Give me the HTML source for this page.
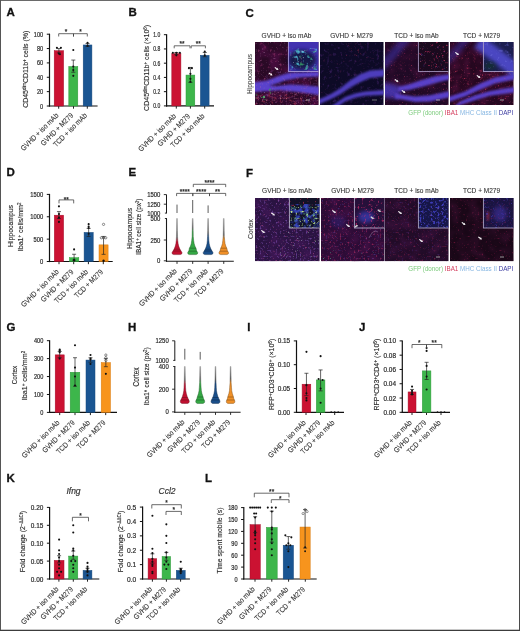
<!DOCTYPE html>
<html><head><meta charset="utf-8"><style>
html,body{margin:0;padding:0;background:#fff;overflow:hidden;}
svg{display:block;font-family:"Liberation Sans",sans-serif;will-change:transform;}
</style></head><body>
<svg width="520" height="631" viewBox="0 0 520 631">
<rect x="0.00" y="0.00" width="520.00" height="631.00" fill="#fff" />
<text x="6.50" y="16.00" font-size="11.5" text-anchor="start" fill="#111" textLength="8.31" lengthAdjust="spacingAndGlyphs" stroke="#111" stroke-width="0.3" font-weight="bold">A</text>
<line x1="49.50" y1="33.70" x2="49.50" y2="106.60" stroke="#111" stroke-width="1.2"/>
<line x1="48.90" y1="106.00" x2="97.60" y2="106.00" stroke="#111" stroke-width="1.2"/>
<line x1="46.80" y1="106.00" x2="49.50" y2="106.00" stroke="#111" stroke-width="1.0"/>
<text x="43.20" y="108.52" font-size="7" text-anchor="end" fill="#2e2e2e" textLength="3.11" lengthAdjust="spacingAndGlyphs" stroke="#2e2e2e" stroke-width="0.22">0</text>
<line x1="46.80" y1="91.64" x2="49.50" y2="91.64" stroke="#111" stroke-width="1.0"/>
<text x="43.20" y="94.16" font-size="7" text-anchor="end" fill="#2e2e2e" textLength="6.23" lengthAdjust="spacingAndGlyphs" stroke="#2e2e2e" stroke-width="0.22">20</text>
<line x1="46.80" y1="77.28" x2="49.50" y2="77.28" stroke="#111" stroke-width="1.0"/>
<text x="43.20" y="79.80" font-size="7" text-anchor="end" fill="#2e2e2e" textLength="6.23" lengthAdjust="spacingAndGlyphs" stroke="#2e2e2e" stroke-width="0.22">40</text>
<line x1="46.80" y1="62.92" x2="49.50" y2="62.92" stroke="#111" stroke-width="1.0"/>
<text x="43.20" y="65.44" font-size="7" text-anchor="end" fill="#2e2e2e" textLength="6.23" lengthAdjust="spacingAndGlyphs" stroke="#2e2e2e" stroke-width="0.22">60</text>
<line x1="46.80" y1="48.56" x2="49.50" y2="48.56" stroke="#111" stroke-width="1.0"/>
<text x="43.20" y="51.08" font-size="7" text-anchor="end" fill="#2e2e2e" textLength="6.23" lengthAdjust="spacingAndGlyphs" stroke="#2e2e2e" stroke-width="0.22">80</text>
<line x1="46.80" y1="34.20" x2="49.50" y2="34.20" stroke="#111" stroke-width="1.0"/>
<text x="43.20" y="36.72" font-size="7" text-anchor="end" fill="#2e2e2e" textLength="9.34" lengthAdjust="spacingAndGlyphs" stroke="#2e2e2e" stroke-width="0.22">100</text>
<line x1="58.70" y1="106.00" x2="58.70" y2="108.70" stroke="#222" stroke-width="1.0"/>
<line x1="73.50" y1="106.00" x2="73.50" y2="108.70" stroke="#222" stroke-width="1.0"/>
<line x1="87.30" y1="106.00" x2="87.30" y2="108.70" stroke="#222" stroke-width="1.0"/>
<rect x="54.20" y="50.71" width="9.40" height="55.29" fill="#cb1232" stroke="#a50f2a" stroke-width="0.5"/>
<line x1="58.90" y1="48.56" x2="58.90" y2="52.87" stroke="#222" stroke-width="0.7"/>
<line x1="56.90" y1="48.56" x2="60.90" y2="48.56" stroke="#222" stroke-width="0.7"/>
<line x1="56.90" y1="52.87" x2="60.90" y2="52.87" stroke="#222" stroke-width="0.7"/>
<circle cx="56.90" cy="47.84" r="1.05" fill="#111"/>
<circle cx="60.90" cy="47.84" r="1.05" fill="#111"/>
<circle cx="58.90" cy="53.59" r="1.05" fill="#111"/>
<circle cx="59.90" cy="54.30" r="1.05" fill="#111"/>
<rect x="68.80" y="66.51" width="9.00" height="39.49" fill="#3db64b" stroke="#2e9a3b" stroke-width="0.5"/>
<line x1="73.30" y1="60.05" x2="73.30" y2="72.25" stroke="#222" stroke-width="0.7"/>
<line x1="71.30" y1="60.05" x2="75.30" y2="60.05" stroke="#222" stroke-width="0.7"/>
<line x1="71.30" y1="72.25" x2="75.30" y2="72.25" stroke="#222" stroke-width="0.7"/>
<circle cx="73.30" cy="50.00" r="1.05" fill="#111"/>
<circle cx="73.30" cy="66.51" r="1.05" fill="#111"/>
<circle cx="73.30" cy="70.10" r="1.05" fill="#111"/>
<circle cx="73.30" cy="75.84" r="1.05" fill="#111"/>
<rect x="83.20" y="44.97" width="8.70" height="61.03" fill="#1a5592" stroke="#16487c" stroke-width="0.5"/>
<line x1="87.55" y1="43.53" x2="87.55" y2="46.41" stroke="#222" stroke-width="0.7"/>
<line x1="85.55" y1="43.53" x2="89.55" y2="43.53" stroke="#222" stroke-width="0.7"/>
<line x1="85.55" y1="46.41" x2="89.55" y2="46.41" stroke="#222" stroke-width="0.7"/>
<circle cx="87.55" cy="42.82" r="1.05" fill="#111"/>
<circle cx="87.55" cy="45.69" r="1.05" fill="#111"/>
<path d="M58.70 36.50V33.70H73.50V36.50" fill="none" stroke="#3a3a3a" stroke-width="0.75"/>
<text x="66.10" y="34.00" font-size="6.5" text-anchor="middle" fill="#2a2a2a" textLength="2.53" lengthAdjust="spacingAndGlyphs" stroke="#2a2a2a" stroke-width="0.25">*</text>
<path d="M73.50 36.50V33.70H87.30V36.50" fill="none" stroke="#3a3a3a" stroke-width="0.75"/>
<text x="80.40" y="34.00" font-size="6.5" text-anchor="middle" fill="#2a2a2a" textLength="2.53" lengthAdjust="spacingAndGlyphs" stroke="#2a2a2a" stroke-width="0.25">*</text>
<text x="59.00" y="116.00" font-size="7.5" text-anchor="end" fill="#333" textLength="49.86" lengthAdjust="spacingAndGlyphs" stroke="#333" stroke-width="0.1" transform="rotate(-45 59.00 116.00)">GVHD + iso mAb</text>
<text x="73.80" y="116.00" font-size="7.5" text-anchor="end" fill="#333" textLength="42.61" lengthAdjust="spacingAndGlyphs" stroke="#333" stroke-width="0.1" transform="rotate(-45 73.80 116.00)">GVHD + M279</text>
<text x="87.60" y="116.00" font-size="7.5" text-anchor="end" fill="#333" textLength="44.42" lengthAdjust="spacingAndGlyphs" stroke="#333" stroke-width="0.1" transform="rotate(-45 87.60 116.00)">TCD + iso mAb</text>
<text x="28.00" y="69.30" font-size="8" text-anchor="middle" fill="#2e2e2e" stroke="#2e2e2e" stroke-width="0.15" transform="rotate(-90 28.00 69.30)" textLength="77.00" lengthAdjust="spacingAndGlyphs">CD45<tspan font-size="5" dy="-2.2">dim</tspan><tspan dy="2.2">CD11b</tspan><tspan font-size="5" dy="-2.2">+</tspan><tspan dy="2.2"> cells (%)</tspan></text>
<text x="128.50" y="16.00" font-size="11.5" text-anchor="start" fill="#111" textLength="8.31" lengthAdjust="spacingAndGlyphs" stroke="#111" stroke-width="0.3" font-weight="bold">B</text>
<line x1="166.60" y1="34.20" x2="166.60" y2="106.50" stroke="#111" stroke-width="1.2"/>
<line x1="166.00" y1="105.90" x2="214.00" y2="105.90" stroke="#111" stroke-width="1.2"/>
<line x1="163.90" y1="105.90" x2="166.60" y2="105.90" stroke="#111" stroke-width="1.0"/>
<text x="160.30" y="108.42" font-size="7" text-anchor="end" fill="#2e2e2e" textLength="7.01" lengthAdjust="spacingAndGlyphs" stroke="#2e2e2e" stroke-width="0.22">0.0</text>
<line x1="163.90" y1="91.66" x2="166.60" y2="91.66" stroke="#111" stroke-width="1.0"/>
<text x="160.30" y="94.18" font-size="7" text-anchor="end" fill="#2e2e2e" textLength="7.01" lengthAdjust="spacingAndGlyphs" stroke="#2e2e2e" stroke-width="0.22">0.2</text>
<line x1="163.90" y1="77.42" x2="166.60" y2="77.42" stroke="#111" stroke-width="1.0"/>
<text x="160.30" y="79.94" font-size="7" text-anchor="end" fill="#2e2e2e" textLength="7.01" lengthAdjust="spacingAndGlyphs" stroke="#2e2e2e" stroke-width="0.22">0.4</text>
<line x1="163.90" y1="63.18" x2="166.60" y2="63.18" stroke="#111" stroke-width="1.0"/>
<text x="160.30" y="65.70" font-size="7" text-anchor="end" fill="#2e2e2e" textLength="7.01" lengthAdjust="spacingAndGlyphs" stroke="#2e2e2e" stroke-width="0.22">0.6</text>
<line x1="163.90" y1="48.94" x2="166.60" y2="48.94" stroke="#111" stroke-width="1.0"/>
<text x="160.30" y="51.46" font-size="7" text-anchor="end" fill="#2e2e2e" textLength="7.01" lengthAdjust="spacingAndGlyphs" stroke="#2e2e2e" stroke-width="0.22">0.8</text>
<line x1="163.90" y1="34.70" x2="166.60" y2="34.70" stroke="#111" stroke-width="1.0"/>
<text x="160.30" y="37.22" font-size="7" text-anchor="end" fill="#2e2e2e" textLength="7.01" lengthAdjust="spacingAndGlyphs" stroke="#2e2e2e" stroke-width="0.22">1.0</text>
<line x1="176.30" y1="105.90" x2="176.30" y2="108.60" stroke="#222" stroke-width="1.0"/>
<line x1="190.40" y1="105.90" x2="190.40" y2="108.60" stroke="#222" stroke-width="1.0"/>
<line x1="204.70" y1="105.90" x2="204.70" y2="108.60" stroke="#222" stroke-width="1.0"/>
<rect x="171.80" y="53.57" width="9.10" height="52.33" fill="#cb1232" stroke="#a50f2a" stroke-width="0.5"/>
<line x1="176.35" y1="52.50" x2="176.35" y2="54.64" stroke="#222" stroke-width="0.7"/>
<line x1="174.35" y1="52.50" x2="178.35" y2="52.50" stroke="#222" stroke-width="0.7"/>
<line x1="174.35" y1="54.64" x2="178.35" y2="54.64" stroke="#222" stroke-width="0.7"/>
<circle cx="172.85" cy="52.86" r="1.05" fill="#111"/>
<circle cx="176.35" cy="52.86" r="1.05" fill="#111"/>
<circle cx="179.85" cy="52.86" r="1.05" fill="#111"/>
<circle cx="176.35" cy="55.35" r="1.05" fill="#111"/>
<rect x="186.00" y="75.07" width="8.80" height="30.83" fill="#3db64b" stroke="#2e9a3b" stroke-width="0.5"/>
<line x1="190.40" y1="67.45" x2="190.40" y2="82.40" stroke="#222" stroke-width="0.7"/>
<line x1="188.40" y1="67.45" x2="192.40" y2="67.45" stroke="#222" stroke-width="0.7"/>
<line x1="188.40" y1="82.40" x2="192.40" y2="82.40" stroke="#222" stroke-width="0.7"/>
<circle cx="188.90" cy="68.16" r="1.05" fill="#111"/>
<circle cx="191.90" cy="68.16" r="1.05" fill="#111"/>
<circle cx="190.40" cy="73.86" r="1.05" fill="#111"/>
<circle cx="190.40" cy="78.84" r="1.05" fill="#111"/>
<circle cx="190.40" cy="81.69" r="1.05" fill="#111"/>
<rect x="200.40" y="55.35" width="8.70" height="50.55" fill="#1a5592" stroke="#16487c" stroke-width="0.5"/>
<line x1="204.75" y1="52.50" x2="204.75" y2="56.77" stroke="#222" stroke-width="0.7"/>
<line x1="202.75" y1="52.50" x2="206.75" y2="52.50" stroke="#222" stroke-width="0.7"/>
<line x1="202.75" y1="56.77" x2="206.75" y2="56.77" stroke="#222" stroke-width="0.7"/>
<circle cx="204.75" cy="51.43" r="1.05" fill="#111"/>
<circle cx="204.75" cy="55.35" r="1.05" fill="#111"/>
<path d="M174.20 48.30V45.80H190.00V48.30" fill="none" stroke="#3a3a3a" stroke-width="0.75"/>
<text x="182.10" y="45.70" font-size="6.5" text-anchor="middle" fill="#2a2a2a" textLength="5.06" lengthAdjust="spacingAndGlyphs" stroke="#2a2a2a" stroke-width="0.25">**</text>
<path d="M191.20 48.30V45.80H205.40V48.30" fill="none" stroke="#3a3a3a" stroke-width="0.75"/>
<text x="198.30" y="45.70" font-size="6.5" text-anchor="middle" fill="#2a2a2a" textLength="5.06" lengthAdjust="spacingAndGlyphs" stroke="#2a2a2a" stroke-width="0.25">**</text>
<text x="176.60" y="116.70" font-size="7.5" text-anchor="end" fill="#333" textLength="49.86" lengthAdjust="spacingAndGlyphs" stroke="#333" stroke-width="0.1" transform="rotate(-45 176.60 116.70)">GVHD + iso mAb</text>
<text x="190.70" y="116.70" font-size="7.5" text-anchor="end" fill="#333" textLength="42.61" lengthAdjust="spacingAndGlyphs" stroke="#333" stroke-width="0.1" transform="rotate(-45 190.70 116.70)">GVHD + M279</text>
<text x="205.00" y="116.70" font-size="7.5" text-anchor="end" fill="#333" textLength="44.42" lengthAdjust="spacingAndGlyphs" stroke="#333" stroke-width="0.1" transform="rotate(-45 205.00 116.70)">TCD + iso mAb</text>
<text x="149.20" y="67.90" font-size="8" text-anchor="middle" fill="#2e2e2e" stroke="#2e2e2e" stroke-width="0.15" transform="rotate(-90 149.20 67.90)" textLength="86.00" lengthAdjust="spacingAndGlyphs">CD45<tspan font-size="5" dy="-2.2">dim</tspan><tspan dy="2.2">CD11b</tspan><tspan font-size="5" dy="-2.2">+</tspan><tspan dy="2.2"> cells (×10</tspan><tspan font-size="5" dy="-2.2">6</tspan><tspan dy="2.2">)</tspan></text>
<text x="6.50" y="175.50" font-size="11.5" text-anchor="start" fill="#111" textLength="8.31" lengthAdjust="spacingAndGlyphs" stroke="#111" stroke-width="0.3" font-weight="bold">D</text>
<line x1="49.50" y1="193.90" x2="49.50" y2="262.10" stroke="#111" stroke-width="1.2"/>
<line x1="48.90" y1="261.50" x2="112.70" y2="261.50" stroke="#111" stroke-width="1.2"/>
<line x1="46.80" y1="261.50" x2="49.50" y2="261.50" stroke="#111" stroke-width="1.0"/>
<text x="43.20" y="264.02" font-size="7" text-anchor="end" fill="#2e2e2e" textLength="3.23" lengthAdjust="spacingAndGlyphs" stroke="#2e2e2e" stroke-width="0.22">0</text>
<line x1="46.80" y1="239.13" x2="49.50" y2="239.13" stroke="#111" stroke-width="1.0"/>
<text x="43.20" y="241.65" font-size="7" text-anchor="end" fill="#2e2e2e" textLength="9.69" lengthAdjust="spacingAndGlyphs" stroke="#2e2e2e" stroke-width="0.22">500</text>
<line x1="46.80" y1="216.77" x2="49.50" y2="216.77" stroke="#111" stroke-width="1.0"/>
<text x="43.20" y="219.29" font-size="7" text-anchor="end" fill="#2e2e2e" textLength="12.92" lengthAdjust="spacingAndGlyphs" stroke="#2e2e2e" stroke-width="0.22">1000</text>
<line x1="46.80" y1="194.40" x2="49.50" y2="194.40" stroke="#111" stroke-width="1.0"/>
<text x="43.20" y="196.92" font-size="7" text-anchor="end" fill="#2e2e2e" textLength="12.92" lengthAdjust="spacingAndGlyphs" stroke="#2e2e2e" stroke-width="0.22">1500</text>
<line x1="59.00" y1="261.50" x2="59.00" y2="264.20" stroke="#222" stroke-width="1.0"/>
<line x1="73.70" y1="261.50" x2="73.70" y2="264.20" stroke="#222" stroke-width="1.0"/>
<line x1="88.40" y1="261.50" x2="88.40" y2="264.20" stroke="#222" stroke-width="1.0"/>
<line x1="103.30" y1="261.50" x2="103.30" y2="264.20" stroke="#222" stroke-width="1.0"/>
<rect x="54.30" y="215.20" width="9.30" height="46.30" fill="#cb1232" stroke="#a50f2a" stroke-width="0.5"/>
<line x1="58.95" y1="211.62" x2="58.95" y2="218.56" stroke="#222" stroke-width="0.7"/>
<line x1="56.95" y1="211.62" x2="60.95" y2="211.62" stroke="#222" stroke-width="0.7"/>
<line x1="56.95" y1="218.56" x2="60.95" y2="218.56" stroke="#222" stroke-width="0.7"/>
<circle cx="58.95" cy="206.34" r="1.05" fill="#111"/>
<circle cx="58.95" cy="214.08" r="1.05" fill="#111"/>
<circle cx="58.95" cy="217.66" r="1.05" fill="#111"/>
<circle cx="58.95" cy="221.91" r="1.05" fill="#111"/>
<rect x="69.40" y="257.70" width="9.40" height="3.80" fill="#3db64b" stroke="#2e9a3b" stroke-width="0.5"/>
<line x1="74.10" y1="254.25" x2="74.10" y2="260.16" stroke="#222" stroke-width="0.7"/>
<line x1="72.10" y1="254.25" x2="76.10" y2="254.25" stroke="#222" stroke-width="0.7"/>
<line x1="72.10" y1="260.16" x2="76.10" y2="260.16" stroke="#222" stroke-width="0.7"/>
<circle cx="74.10" cy="249.42" r="1.05" fill="#111"/>
<circle cx="74.10" cy="259.71" r="1.05" fill="#111"/>
<circle cx="74.10" cy="260.61" r="1.05" fill="#111"/>
<rect x="84.10" y="232.42" width="9.10" height="29.08" fill="#1a5592" stroke="#16487c" stroke-width="0.5"/>
<line x1="88.65" y1="228.40" x2="88.65" y2="236.45" stroke="#222" stroke-width="0.7"/>
<line x1="86.65" y1="228.40" x2="90.65" y2="228.40" stroke="#222" stroke-width="0.7"/>
<line x1="86.65" y1="236.45" x2="90.65" y2="236.45" stroke="#222" stroke-width="0.7"/>
<circle cx="88.65" cy="224.15" r="1.05" fill="#111"/>
<circle cx="88.65" cy="226.61" r="1.05" fill="#111"/>
<circle cx="88.65" cy="227.95" r="1.05" fill="#111"/>
<circle cx="88.65" cy="233.77" r="1.05" fill="#111"/>
<rect x="99.00" y="244.86" width="9.10" height="16.64" fill="#f7941d" stroke="#d97d12" stroke-width="0.5"/>
<line x1="103.55" y1="236.45" x2="103.55" y2="254.34" stroke="#222" stroke-width="0.7"/>
<line x1="101.55" y1="236.45" x2="105.55" y2="236.45" stroke="#222" stroke-width="0.7"/>
<line x1="101.55" y1="254.34" x2="105.55" y2="254.34" stroke="#222" stroke-width="0.7"/>
<circle cx="103.55" cy="260.61" r="1.05" fill="#111"/>
<circle cx="103.55" cy="261.05" r="1.05" fill="#111"/>
<circle cx="103.55" cy="224.37" r="1.15" fill="none" stroke="#333" stroke-width="0.55"/>
<circle cx="101.35" cy="237.79" r="1.15" fill="none" stroke="#333" stroke-width="0.55"/>
<circle cx="103.55" cy="237.79" r="1.15" fill="none" stroke="#333" stroke-width="0.55"/>
<circle cx="105.75" cy="237.79" r="1.15" fill="none" stroke="#333" stroke-width="0.55"/>
<path d="M59.00 203.40V199.90H73.70V203.40" fill="none" stroke="#3a3a3a" stroke-width="0.75"/>
<text x="66.35" y="201.50" font-size="6.5" text-anchor="middle" fill="#2a2a2a" textLength="5.06" lengthAdjust="spacingAndGlyphs" stroke="#2a2a2a" stroke-width="0.25">**</text>
<text x="59.30" y="272.30" font-size="7.5" text-anchor="end" fill="#333" textLength="49.86" lengthAdjust="spacingAndGlyphs" stroke="#333" stroke-width="0.1" transform="rotate(-45 59.30 272.30)">GVHD + iso mAb</text>
<text x="74.00" y="272.30" font-size="7.5" text-anchor="end" fill="#333" textLength="42.61" lengthAdjust="spacingAndGlyphs" stroke="#333" stroke-width="0.1" transform="rotate(-45 74.00 272.30)">GVHD + M279</text>
<text x="88.70" y="272.30" font-size="7.5" text-anchor="end" fill="#333" textLength="44.42" lengthAdjust="spacingAndGlyphs" stroke="#333" stroke-width="0.1" transform="rotate(-45 88.70 272.30)">TCD + iso mAb</text>
<text x="103.60" y="272.30" font-size="7.5" text-anchor="end" fill="#333" textLength="37.17" lengthAdjust="spacingAndGlyphs" stroke="#333" stroke-width="0.1" transform="rotate(-45 103.60 272.30)">TCD + M279</text>
<text x="13.30" y="226.00" font-size="8" text-anchor="middle" fill="#2e2e2e" stroke="#2e2e2e" stroke-width="0.15" transform="rotate(-90 13.30 226.00)" textLength="42.00" lengthAdjust="spacingAndGlyphs">Hippocampus</text>
<text x="23.20" y="226.90" font-size="8" text-anchor="middle" fill="#2e2e2e" stroke="#2e2e2e" stroke-width="0.15" transform="rotate(-90 23.20 226.90)" textLength="48.60" lengthAdjust="spacingAndGlyphs">Iba1<tspan font-size="5" dy="-2.2">+</tspan><tspan dy="2.2"> cells/mm</tspan><tspan font-size="5" dy="-2.2">2</tspan></text>
<text x="6.50" y="331.00" font-size="11.5" text-anchor="start" fill="#111" textLength="8.94" lengthAdjust="spacingAndGlyphs" stroke="#111" stroke-width="0.3" font-weight="bold">G</text>
<line x1="49.60" y1="340.20" x2="49.60" y2="413.00" stroke="#111" stroke-width="1.2"/>
<line x1="49.00" y1="412.40" x2="117.00" y2="412.40" stroke="#111" stroke-width="1.2"/>
<line x1="46.90" y1="412.40" x2="49.60" y2="412.40" stroke="#111" stroke-width="1.0"/>
<text x="43.30" y="414.92" font-size="7" text-anchor="end" fill="#2e2e2e" textLength="3.11" lengthAdjust="spacingAndGlyphs" stroke="#2e2e2e" stroke-width="0.22">0</text>
<line x1="46.90" y1="394.47" x2="49.60" y2="394.47" stroke="#111" stroke-width="1.0"/>
<text x="43.30" y="396.99" font-size="7" text-anchor="end" fill="#2e2e2e" textLength="9.34" lengthAdjust="spacingAndGlyphs" stroke="#2e2e2e" stroke-width="0.22">100</text>
<line x1="46.90" y1="376.55" x2="49.60" y2="376.55" stroke="#111" stroke-width="1.0"/>
<text x="43.30" y="379.07" font-size="7" text-anchor="end" fill="#2e2e2e" textLength="9.34" lengthAdjust="spacingAndGlyphs" stroke="#2e2e2e" stroke-width="0.22">200</text>
<line x1="46.90" y1="358.62" x2="49.60" y2="358.62" stroke="#111" stroke-width="1.0"/>
<text x="43.30" y="361.14" font-size="7" text-anchor="end" fill="#2e2e2e" textLength="9.34" lengthAdjust="spacingAndGlyphs" stroke="#2e2e2e" stroke-width="0.22">300</text>
<line x1="46.90" y1="340.70" x2="49.60" y2="340.70" stroke="#111" stroke-width="1.0"/>
<text x="43.30" y="343.22" font-size="7" text-anchor="end" fill="#2e2e2e" textLength="9.34" lengthAdjust="spacingAndGlyphs" stroke="#2e2e2e" stroke-width="0.22">400</text>
<line x1="59.70" y1="412.40" x2="59.70" y2="415.10" stroke="#222" stroke-width="1.0"/>
<line x1="75.00" y1="412.40" x2="75.00" y2="415.10" stroke="#222" stroke-width="1.0"/>
<line x1="90.40" y1="412.40" x2="90.40" y2="415.10" stroke="#222" stroke-width="1.0"/>
<line x1="105.70" y1="412.40" x2="105.70" y2="415.10" stroke="#222" stroke-width="1.0"/>
<rect x="55.20" y="354.86" width="9.00" height="57.54" fill="#cb1232" stroke="#a50f2a" stroke-width="0.5"/>
<line x1="59.70" y1="351.45" x2="59.70" y2="357.73" stroke="#222" stroke-width="0.7"/>
<line x1="57.70" y1="351.45" x2="61.70" y2="351.45" stroke="#222" stroke-width="0.7"/>
<line x1="57.70" y1="357.73" x2="61.70" y2="357.73" stroke="#222" stroke-width="0.7"/>
<circle cx="59.70" cy="349.66" r="1.05" fill="#111"/>
<circle cx="59.70" cy="350.56" r="1.05" fill="#111"/>
<circle cx="59.70" cy="352.35" r="1.05" fill="#111"/>
<circle cx="59.70" cy="358.62" r="1.05" fill="#111"/>
<rect x="70.20" y="372.25" width="9.60" height="40.15" fill="#3db64b" stroke="#2e9a3b" stroke-width="0.5"/>
<line x1="75.00" y1="357.73" x2="75.00" y2="386.23" stroke="#222" stroke-width="0.7"/>
<line x1="73.00" y1="357.73" x2="77.00" y2="357.73" stroke="#222" stroke-width="0.7"/>
<line x1="73.00" y1="386.23" x2="77.00" y2="386.23" stroke="#222" stroke-width="0.7"/>
<circle cx="75.00" cy="345.18" r="1.05" fill="#111"/>
<circle cx="75.00" cy="367.59" r="1.05" fill="#111"/>
<circle cx="75.00" cy="376.55" r="1.05" fill="#111"/>
<circle cx="75.00" cy="385.51" r="1.05" fill="#111"/>
<rect x="86.00" y="360.06" width="9.00" height="52.34" fill="#1a5592" stroke="#16487c" stroke-width="0.5"/>
<line x1="90.50" y1="357.73" x2="90.50" y2="362.21" stroke="#222" stroke-width="0.7"/>
<line x1="88.50" y1="357.73" x2="92.50" y2="357.73" stroke="#222" stroke-width="0.7"/>
<line x1="88.50" y1="362.21" x2="92.50" y2="362.21" stroke="#222" stroke-width="0.7"/>
<circle cx="90.50" cy="355.04" r="1.05" fill="#111"/>
<circle cx="90.50" cy="358.62" r="1.05" fill="#111"/>
<circle cx="90.50" cy="359.52" r="1.05" fill="#111"/>
<circle cx="90.50" cy="364.00" r="1.05" fill="#111"/>
<rect x="101.20" y="362.57" width="9.30" height="49.83" fill="#f7941d" stroke="#d97d12" stroke-width="0.5"/>
<line x1="105.85" y1="358.62" x2="105.85" y2="366.69" stroke="#222" stroke-width="0.7"/>
<line x1="103.85" y1="358.62" x2="107.85" y2="358.62" stroke="#222" stroke-width="0.7"/>
<line x1="103.85" y1="366.69" x2="107.85" y2="366.69" stroke="#222" stroke-width="0.7"/>
<circle cx="105.85" cy="373.86" r="1.05" fill="#111"/>
<circle cx="105.85" cy="355.04" r="1.15" fill="none" stroke="#333" stroke-width="0.55"/>
<circle cx="105.85" cy="357.73" r="1.15" fill="none" stroke="#333" stroke-width="0.55"/>
<circle cx="105.85" cy="360.42" r="1.15" fill="none" stroke="#333" stroke-width="0.55"/>
<text x="60.00" y="423.20" font-size="7.5" text-anchor="end" fill="#333" textLength="49.86" lengthAdjust="spacingAndGlyphs" stroke="#333" stroke-width="0.1" transform="rotate(-45 60.00 423.20)">GVHD + iso mAb</text>
<text x="75.30" y="423.20" font-size="7.5" text-anchor="end" fill="#333" textLength="42.61" lengthAdjust="spacingAndGlyphs" stroke="#333" stroke-width="0.1" transform="rotate(-45 75.30 423.20)">GVHD + M279</text>
<text x="90.70" y="423.20" font-size="7.5" text-anchor="end" fill="#333" textLength="44.42" lengthAdjust="spacingAndGlyphs" stroke="#333" stroke-width="0.1" transform="rotate(-45 90.70 423.20)">TCD + iso mAb</text>
<text x="106.00" y="423.20" font-size="7.5" text-anchor="end" fill="#333" textLength="37.17" lengthAdjust="spacingAndGlyphs" stroke="#333" stroke-width="0.1" transform="rotate(-45 106.00 423.20)">TCD + M279</text>
<text x="17.30" y="375.00" font-size="8" text-anchor="middle" fill="#2e2e2e" stroke="#2e2e2e" stroke-width="0.15" transform="rotate(-90 17.30 375.00)" textLength="18.50" lengthAdjust="spacingAndGlyphs">Cortex</text>
<text x="27.40" y="375.50" font-size="8" text-anchor="middle" fill="#2e2e2e" stroke="#2e2e2e" stroke-width="0.15" transform="rotate(-90 27.40 375.50)" textLength="49.50" lengthAdjust="spacingAndGlyphs">Iba1<tspan font-size="5" dy="-2.2">+</tspan><tspan dy="2.2"> cells/mm</tspan><tspan font-size="5" dy="-2.2">2</tspan></text>
<text x="247.30" y="331.00" font-size="11.5" text-anchor="start" fill="#111" textLength="3.19" lengthAdjust="spacingAndGlyphs" stroke="#111" stroke-width="0.3" font-weight="bold">I</text>
<line x1="296.50" y1="340.40" x2="296.50" y2="412.90" stroke="#111" stroke-width="1.2"/>
<line x1="295.90" y1="412.30" x2="344.00" y2="412.30" stroke="#111" stroke-width="1.2"/>
<line x1="293.80" y1="412.30" x2="296.50" y2="412.30" stroke="#111" stroke-width="1.0"/>
<text x="290.20" y="414.82" font-size="7" text-anchor="end" fill="#2e2e2e" textLength="12.53" lengthAdjust="spacingAndGlyphs" stroke="#2e2e2e" stroke-width="0.22">0.00</text>
<line x1="293.80" y1="388.50" x2="296.50" y2="388.50" stroke="#111" stroke-width="1.0"/>
<text x="290.20" y="391.02" font-size="7" text-anchor="end" fill="#2e2e2e" textLength="12.53" lengthAdjust="spacingAndGlyphs" stroke="#2e2e2e" stroke-width="0.22">0.05</text>
<line x1="293.80" y1="364.70" x2="296.50" y2="364.70" stroke="#111" stroke-width="1.0"/>
<text x="290.20" y="367.22" font-size="7" text-anchor="end" fill="#2e2e2e" textLength="12.53" lengthAdjust="spacingAndGlyphs" stroke="#2e2e2e" stroke-width="0.22">0.10</text>
<line x1="293.80" y1="340.90" x2="296.50" y2="340.90" stroke="#111" stroke-width="1.0"/>
<text x="290.20" y="343.42" font-size="7" text-anchor="end" fill="#2e2e2e" textLength="12.53" lengthAdjust="spacingAndGlyphs" stroke="#2e2e2e" stroke-width="0.22">0.15</text>
<line x1="306.00" y1="412.30" x2="306.00" y2="415.00" stroke="#222" stroke-width="1.0"/>
<line x1="320.50" y1="412.30" x2="320.50" y2="415.00" stroke="#222" stroke-width="1.0"/>
<line x1="334.70" y1="412.30" x2="334.70" y2="415.00" stroke="#222" stroke-width="1.0"/>
<rect x="302.10" y="384.22" width="8.70" height="28.08" fill="#cb1232" stroke="#a50f2a" stroke-width="0.5"/>
<line x1="306.45" y1="373.27" x2="306.45" y2="395.64" stroke="#222" stroke-width="0.7"/>
<line x1="304.45" y1="373.27" x2="308.45" y2="373.27" stroke="#222" stroke-width="0.7"/>
<line x1="304.45" y1="395.64" x2="308.45" y2="395.64" stroke="#222" stroke-width="0.7"/>
<circle cx="306.45" cy="351.85" r="1.05" fill="#111"/>
<circle cx="306.45" cy="385.17" r="1.05" fill="#111"/>
<circle cx="306.45" cy="393.26" r="1.05" fill="#111"/>
<circle cx="306.45" cy="398.02" r="1.05" fill="#111"/>
<circle cx="306.45" cy="400.40" r="1.05" fill="#111"/>
<rect x="316.30" y="379.93" width="8.60" height="32.37" fill="#3db64b" stroke="#2e9a3b" stroke-width="0.5"/>
<line x1="320.60" y1="369.94" x2="320.60" y2="390.88" stroke="#222" stroke-width="0.7"/>
<line x1="318.60" y1="369.94" x2="322.60" y2="369.94" stroke="#222" stroke-width="0.7"/>
<line x1="318.60" y1="390.88" x2="322.60" y2="390.88" stroke="#222" stroke-width="0.7"/>
<circle cx="320.60" cy="356.13" r="1.05" fill="#111"/>
<circle cx="318.60" cy="378.98" r="1.05" fill="#111"/>
<circle cx="322.60" cy="379.93" r="1.05" fill="#111"/>
<circle cx="320.60" cy="388.50" r="1.05" fill="#111"/>
<circle cx="320.60" cy="402.78" r="1.05" fill="#111"/>
<circle cx="331.20" cy="412.00" r="0.8" fill="#111"/>
<circle cx="334.70" cy="412.00" r="0.8" fill="#111"/>
<circle cx="338.20" cy="412.00" r="0.8" fill="#111"/>
<text x="306.30" y="423.10" font-size="7.5" text-anchor="end" fill="#333" textLength="49.86" lengthAdjust="spacingAndGlyphs" stroke="#333" stroke-width="0.1" transform="rotate(-45 306.30 423.10)">GVHD + iso mAb</text>
<text x="320.80" y="423.10" font-size="7.5" text-anchor="end" fill="#333" textLength="42.61" lengthAdjust="spacingAndGlyphs" stroke="#333" stroke-width="0.1" transform="rotate(-45 320.80 423.10)">GVHD + M279</text>
<text x="335.00" y="423.10" font-size="7.5" text-anchor="end" fill="#333" textLength="44.42" lengthAdjust="spacingAndGlyphs" stroke="#333" stroke-width="0.1" transform="rotate(-45 335.00 423.10)">TCD + iso mAb</text>
<text x="274.20" y="374.30" font-size="7" text-anchor="middle" fill="#2e2e2e" stroke="#2e2e2e" stroke-width="0.15" transform="rotate(-90 274.20 374.30)" textLength="71.40" lengthAdjust="spacingAndGlyphs">RFP<tspan font-size="5" dy="-2.2">+</tspan><tspan dy="2.2">CD3</tspan><tspan font-size="5" dy="-2.2">+</tspan><tspan dy="2.2">CD8</tspan><tspan font-size="5" dy="-2.2">+</tspan><tspan dy="2.2"> (×10</tspan><tspan font-size="5" dy="-2.2">6</tspan><tspan dy="2.2">)</tspan></text>
<text x="359.00" y="331.00" font-size="11.5" text-anchor="start" fill="#111" textLength="6.40" lengthAdjust="spacingAndGlyphs" stroke="#111" stroke-width="0.3" font-weight="bold">J</text>
<line x1="402.30" y1="340.40" x2="402.30" y2="412.90" stroke="#111" stroke-width="1.2"/>
<line x1="401.70" y1="412.30" x2="450.00" y2="412.30" stroke="#111" stroke-width="1.2"/>
<line x1="399.60" y1="412.30" x2="402.30" y2="412.30" stroke="#111" stroke-width="1.0"/>
<text x="396.00" y="414.82" font-size="7" text-anchor="end" fill="#2e2e2e" textLength="12.53" lengthAdjust="spacingAndGlyphs" stroke="#2e2e2e" stroke-width="0.22">0.00</text>
<line x1="399.60" y1="398.02" x2="402.30" y2="398.02" stroke="#111" stroke-width="1.0"/>
<text x="396.00" y="400.54" font-size="7" text-anchor="end" fill="#2e2e2e" textLength="12.53" lengthAdjust="spacingAndGlyphs" stroke="#2e2e2e" stroke-width="0.22">0.02</text>
<line x1="399.60" y1="383.74" x2="402.30" y2="383.74" stroke="#111" stroke-width="1.0"/>
<text x="396.00" y="386.26" font-size="7" text-anchor="end" fill="#2e2e2e" textLength="12.53" lengthAdjust="spacingAndGlyphs" stroke="#2e2e2e" stroke-width="0.22">0.04</text>
<line x1="399.60" y1="369.46" x2="402.30" y2="369.46" stroke="#111" stroke-width="1.0"/>
<text x="396.00" y="371.98" font-size="7" text-anchor="end" fill="#2e2e2e" textLength="12.53" lengthAdjust="spacingAndGlyphs" stroke="#2e2e2e" stroke-width="0.22">0.06</text>
<line x1="399.60" y1="355.18" x2="402.30" y2="355.18" stroke="#111" stroke-width="1.0"/>
<text x="396.00" y="357.70" font-size="7" text-anchor="end" fill="#2e2e2e" textLength="12.53" lengthAdjust="spacingAndGlyphs" stroke="#2e2e2e" stroke-width="0.22">0.08</text>
<line x1="399.60" y1="340.90" x2="402.30" y2="340.90" stroke="#111" stroke-width="1.0"/>
<text x="396.00" y="343.42" font-size="7" text-anchor="end" fill="#2e2e2e" textLength="12.53" lengthAdjust="spacingAndGlyphs" stroke="#2e2e2e" stroke-width="0.22">0.10</text>
<line x1="412.00" y1="412.30" x2="412.00" y2="415.00" stroke="#222" stroke-width="1.0"/>
<line x1="426.50" y1="412.30" x2="426.50" y2="415.00" stroke="#222" stroke-width="1.0"/>
<line x1="441.00" y1="412.30" x2="441.00" y2="415.00" stroke="#222" stroke-width="1.0"/>
<rect x="408.10" y="391.95" width="7.90" height="20.35" fill="#cb1232" stroke="#a50f2a" stroke-width="0.5"/>
<line x1="412.05" y1="389.45" x2="412.05" y2="394.45" stroke="#222" stroke-width="0.7"/>
<line x1="410.05" y1="389.45" x2="414.05" y2="389.45" stroke="#222" stroke-width="0.7"/>
<line x1="410.05" y1="394.45" x2="414.05" y2="394.45" stroke="#222" stroke-width="0.7"/>
<circle cx="412.05" cy="386.60" r="1.05" fill="#111"/>
<circle cx="412.05" cy="390.88" r="1.05" fill="#111"/>
<circle cx="412.05" cy="393.02" r="1.05" fill="#111"/>
<circle cx="412.05" cy="394.45" r="1.05" fill="#111"/>
<rect x="422.30" y="370.89" width="8.60" height="41.41" fill="#3db64b" stroke="#2e9a3b" stroke-width="0.5"/>
<line x1="426.60" y1="362.32" x2="426.60" y2="379.46" stroke="#222" stroke-width="0.7"/>
<line x1="424.60" y1="362.32" x2="428.60" y2="362.32" stroke="#222" stroke-width="0.7"/>
<line x1="424.60" y1="379.46" x2="428.60" y2="379.46" stroke="#222" stroke-width="0.7"/>
<circle cx="426.60" cy="348.04" r="1.05" fill="#111"/>
<circle cx="426.60" cy="350.90" r="1.05" fill="#111"/>
<circle cx="426.60" cy="365.89" r="1.05" fill="#111"/>
<circle cx="426.60" cy="376.60" r="1.05" fill="#111"/>
<circle cx="426.60" cy="389.45" r="1.05" fill="#111"/>
<circle cx="437.50" cy="412.00" r="0.8" fill="#111"/>
<circle cx="441.00" cy="412.00" r="0.8" fill="#111"/>
<circle cx="444.50" cy="412.00" r="0.8" fill="#111"/>
<path d="M412.00 348.20V344.50H426.50V348.20" fill="none" stroke="#3a3a3a" stroke-width="0.75"/>
<text x="419.25" y="345.10" font-size="6.5" text-anchor="middle" fill="#2a2a2a" textLength="2.53" lengthAdjust="spacingAndGlyphs" stroke="#2a2a2a" stroke-width="0.25">*</text>
<path d="M426.50 348.20V344.50H441.80V348.20" fill="none" stroke="#3a3a3a" stroke-width="0.75"/>
<text x="434.15" y="345.10" font-size="6.5" text-anchor="middle" fill="#2a2a2a" textLength="5.06" lengthAdjust="spacingAndGlyphs" stroke="#2a2a2a" stroke-width="0.25">**</text>
<text x="412.30" y="423.10" font-size="7.5" text-anchor="end" fill="#333" textLength="49.86" lengthAdjust="spacingAndGlyphs" stroke="#333" stroke-width="0.1" transform="rotate(-45 412.30 423.10)">GVHD + iso mAb</text>
<text x="426.80" y="423.10" font-size="7.5" text-anchor="end" fill="#333" textLength="42.61" lengthAdjust="spacingAndGlyphs" stroke="#333" stroke-width="0.1" transform="rotate(-45 426.80 423.10)">GVHD + M279</text>
<text x="441.30" y="423.10" font-size="7.5" text-anchor="end" fill="#333" textLength="44.42" lengthAdjust="spacingAndGlyphs" stroke="#333" stroke-width="0.1" transform="rotate(-45 441.30 423.10)">TCD + iso mAb</text>
<text x="379.50" y="374.60" font-size="7" text-anchor="middle" fill="#2e2e2e" stroke="#2e2e2e" stroke-width="0.15" transform="rotate(-90 379.50 374.60)" textLength="72.00" lengthAdjust="spacingAndGlyphs">RFP<tspan font-size="5" dy="-2.2">+</tspan><tspan dy="2.2">CD3</tspan><tspan font-size="5" dy="-2.2">+</tspan><tspan dy="2.2">CD4</tspan><tspan font-size="5" dy="-2.2">+</tspan><tspan dy="2.2"> (×10</tspan><tspan font-size="5" dy="-2.2">6</tspan><tspan dy="2.2">)</tspan></text>
<text x="6.50" y="482.00" font-size="11.5" text-anchor="start" fill="#111" textLength="8.31" lengthAdjust="spacingAndGlyphs" stroke="#111" stroke-width="0.3" font-weight="bold">K</text>
<line x1="49.60" y1="506.90" x2="49.60" y2="579.60" stroke="#111" stroke-width="1.2"/>
<line x1="49.00" y1="579.00" x2="99.30" y2="579.00" stroke="#111" stroke-width="1.2"/>
<line x1="46.90" y1="579.00" x2="49.60" y2="579.00" stroke="#111" stroke-width="1.0"/>
<text x="43.30" y="581.52" font-size="7" text-anchor="end" fill="#2e2e2e" textLength="12.53" lengthAdjust="spacingAndGlyphs" stroke="#2e2e2e" stroke-width="0.22">0.00</text>
<line x1="46.90" y1="561.10" x2="49.60" y2="561.10" stroke="#111" stroke-width="1.0"/>
<text x="43.30" y="563.62" font-size="7" text-anchor="end" fill="#2e2e2e" textLength="12.53" lengthAdjust="spacingAndGlyphs" stroke="#2e2e2e" stroke-width="0.22">0.05</text>
<line x1="46.90" y1="543.20" x2="49.60" y2="543.20" stroke="#111" stroke-width="1.0"/>
<text x="43.30" y="545.72" font-size="7" text-anchor="end" fill="#2e2e2e" textLength="12.53" lengthAdjust="spacingAndGlyphs" stroke="#2e2e2e" stroke-width="0.22">0.10</text>
<line x1="46.90" y1="525.30" x2="49.60" y2="525.30" stroke="#111" stroke-width="1.0"/>
<text x="43.30" y="527.82" font-size="7" text-anchor="end" fill="#2e2e2e" textLength="12.53" lengthAdjust="spacingAndGlyphs" stroke="#2e2e2e" stroke-width="0.22">0.15</text>
<line x1="46.90" y1="507.40" x2="49.60" y2="507.40" stroke="#111" stroke-width="1.0"/>
<text x="43.30" y="509.92" font-size="7" text-anchor="end" fill="#2e2e2e" textLength="12.53" lengthAdjust="spacingAndGlyphs" stroke="#2e2e2e" stroke-width="0.22">0.20</text>
<line x1="58.90" y1="579.00" x2="58.90" y2="581.70" stroke="#222" stroke-width="1.0"/>
<line x1="73.30" y1="579.00" x2="73.30" y2="581.70" stroke="#222" stroke-width="1.0"/>
<line x1="87.50" y1="579.00" x2="87.50" y2="581.70" stroke="#222" stroke-width="1.0"/>
<rect x="54.20" y="560.38" width="9.80" height="18.62" fill="#cb1232" stroke="#a50f2a" stroke-width="0.5"/>
<line x1="59.10" y1="555.73" x2="59.10" y2="562.89" stroke="#222" stroke-width="0.7"/>
<line x1="57.10" y1="555.73" x2="61.10" y2="555.73" stroke="#222" stroke-width="0.7"/>
<line x1="57.10" y1="562.89" x2="61.10" y2="562.89" stroke="#222" stroke-width="0.7"/>
<circle cx="59.10" cy="539.62" r="1.05" fill="#111"/>
<circle cx="59.10" cy="550.36" r="1.05" fill="#111"/>
<circle cx="59.10" cy="553.94" r="1.05" fill="#111"/>
<circle cx="59.10" cy="557.52" r="1.05" fill="#111"/>
<circle cx="59.10" cy="561.10" r="1.05" fill="#111"/>
<circle cx="59.10" cy="564.68" r="1.05" fill="#111"/>
<circle cx="59.10" cy="568.26" r="1.05" fill="#111"/>
<circle cx="57.10" cy="571.84" r="1.05" fill="#111"/>
<circle cx="61.10" cy="571.84" r="1.05" fill="#111"/>
<circle cx="59.10" cy="575.42" r="1.05" fill="#111"/>
<rect x="68.70" y="556.09" width="9.10" height="22.91" fill="#3db64b" stroke="#2e9a3b" stroke-width="0.5"/>
<line x1="73.25" y1="551.08" x2="73.25" y2="559.31" stroke="#222" stroke-width="0.7"/>
<line x1="71.25" y1="551.08" x2="75.25" y2="551.08" stroke="#222" stroke-width="0.7"/>
<line x1="71.25" y1="559.31" x2="75.25" y2="559.31" stroke="#222" stroke-width="0.7"/>
<circle cx="73.25" cy="525.30" r="1.05" fill="#111"/>
<circle cx="73.25" cy="532.46" r="1.05" fill="#111"/>
<circle cx="73.25" cy="548.57" r="1.05" fill="#111"/>
<circle cx="73.25" cy="550.36" r="1.05" fill="#111"/>
<circle cx="73.25" cy="555.73" r="1.05" fill="#111"/>
<circle cx="71.25" cy="561.10" r="1.05" fill="#111"/>
<circle cx="75.25" cy="561.10" r="1.05" fill="#111"/>
<circle cx="73.25" cy="564.68" r="1.05" fill="#111"/>
<circle cx="73.25" cy="568.26" r="1.05" fill="#111"/>
<circle cx="73.25" cy="571.84" r="1.05" fill="#111"/>
<rect x="83.10" y="570.41" width="8.80" height="8.59" fill="#1a5592" stroke="#16487c" stroke-width="0.5"/>
<line x1="87.50" y1="568.26" x2="87.50" y2="571.84" stroke="#222" stroke-width="0.7"/>
<line x1="85.50" y1="568.26" x2="89.50" y2="568.26" stroke="#222" stroke-width="0.7"/>
<line x1="85.50" y1="571.84" x2="89.50" y2="571.84" stroke="#222" stroke-width="0.7"/>
<circle cx="87.50" cy="562.89" r="1.05" fill="#111"/>
<circle cx="87.50" cy="566.47" r="1.05" fill="#111"/>
<circle cx="87.50" cy="568.26" r="1.05" fill="#111"/>
<circle cx="87.50" cy="570.05" r="1.05" fill="#111"/>
<circle cx="87.50" cy="571.84" r="1.05" fill="#111"/>
<circle cx="87.50" cy="575.42" r="1.05" fill="#111"/>
<path d="M72.40 521.30V517.30H88.50V521.30" fill="none" stroke="#3a3a3a" stroke-width="0.75"/>
<text x="80.45" y="517.70" font-size="6.5" text-anchor="middle" fill="#2a2a2a" textLength="2.53" lengthAdjust="spacingAndGlyphs" stroke="#2a2a2a" stroke-width="0.25">*</text>
<text x="59.20" y="589.80" font-size="7.5" text-anchor="end" fill="#333" textLength="49.86" lengthAdjust="spacingAndGlyphs" stroke="#333" stroke-width="0.1" transform="rotate(-45 59.20 589.80)">GVHD + iso mAb</text>
<text x="73.60" y="589.80" font-size="7.5" text-anchor="end" fill="#333" textLength="42.61" lengthAdjust="spacingAndGlyphs" stroke="#333" stroke-width="0.1" transform="rotate(-45 73.60 589.80)">GVHD + M279</text>
<text x="87.80" y="589.80" font-size="7.5" text-anchor="end" fill="#333" textLength="44.42" lengthAdjust="spacingAndGlyphs" stroke="#333" stroke-width="0.1" transform="rotate(-45 87.80 589.80)">TCD + iso mAb</text>
<text x="73.50" y="494.20" font-size="8.5" text-anchor="middle" fill="#3a3a3a" textLength="14.18" lengthAdjust="spacingAndGlyphs" stroke="#3a3a3a" stroke-width="0.22" font-style="italic">Ifng</text>
<text x="25.30" y="541.50" font-size="7.8" text-anchor="middle" fill="#2e2e2e" stroke="#2e2e2e" stroke-width="0.15" transform="rotate(-90 25.30 541.50)" textLength="61.40" lengthAdjust="spacingAndGlyphs">Fold change (2<tspan font-size="5" dy="-2.2">−ΔΔCt</tspan><tspan dy="2.2">)</tspan></text>
<line x1="142.60" y1="506.60" x2="142.60" y2="579.60" stroke="#111" stroke-width="1.2"/>
<line x1="142.00" y1="579.00" x2="189.90" y2="579.00" stroke="#111" stroke-width="1.2"/>
<line x1="139.90" y1="579.00" x2="142.60" y2="579.00" stroke="#111" stroke-width="1.0"/>
<text x="136.30" y="581.52" font-size="7" text-anchor="end" fill="#2e2e2e" textLength="9.24" lengthAdjust="spacingAndGlyphs" stroke="#2e2e2e" stroke-width="0.22">0.0</text>
<line x1="139.90" y1="564.62" x2="142.60" y2="564.62" stroke="#111" stroke-width="1.0"/>
<text x="136.30" y="567.14" font-size="7" text-anchor="end" fill="#2e2e2e" textLength="9.24" lengthAdjust="spacingAndGlyphs" stroke="#2e2e2e" stroke-width="0.22">0.1</text>
<line x1="139.90" y1="550.24" x2="142.60" y2="550.24" stroke="#111" stroke-width="1.0"/>
<text x="136.30" y="552.76" font-size="7" text-anchor="end" fill="#2e2e2e" textLength="9.24" lengthAdjust="spacingAndGlyphs" stroke="#2e2e2e" stroke-width="0.22">0.2</text>
<line x1="139.90" y1="535.86" x2="142.60" y2="535.86" stroke="#111" stroke-width="1.0"/>
<text x="136.30" y="538.38" font-size="7" text-anchor="end" fill="#2e2e2e" textLength="9.24" lengthAdjust="spacingAndGlyphs" stroke="#2e2e2e" stroke-width="0.22">0.3</text>
<line x1="139.90" y1="521.48" x2="142.60" y2="521.48" stroke="#111" stroke-width="1.0"/>
<text x="136.30" y="524.00" font-size="7" text-anchor="end" fill="#2e2e2e" textLength="9.24" lengthAdjust="spacingAndGlyphs" stroke="#2e2e2e" stroke-width="0.22">0.4</text>
<line x1="139.90" y1="507.10" x2="142.60" y2="507.10" stroke="#111" stroke-width="1.0"/>
<text x="136.30" y="509.62" font-size="7" text-anchor="end" fill="#2e2e2e" textLength="9.24" lengthAdjust="spacingAndGlyphs" stroke="#2e2e2e" stroke-width="0.22">0.5</text>
<line x1="152.40" y1="579.00" x2="152.40" y2="581.70" stroke="#222" stroke-width="1.0"/>
<line x1="166.40" y1="579.00" x2="166.40" y2="581.70" stroke="#222" stroke-width="1.0"/>
<line x1="180.60" y1="579.00" x2="180.60" y2="581.70" stroke="#222" stroke-width="1.0"/>
<rect x="148.10" y="558.72" width="8.60" height="20.28" fill="#cb1232" stroke="#a50f2a" stroke-width="0.5"/>
<line x1="152.40" y1="553.84" x2="152.40" y2="563.18" stroke="#222" stroke-width="0.7"/>
<line x1="150.40" y1="553.84" x2="154.40" y2="553.84" stroke="#222" stroke-width="0.7"/>
<line x1="150.40" y1="563.18" x2="154.40" y2="563.18" stroke="#222" stroke-width="0.7"/>
<circle cx="152.40" cy="515.73" r="1.05" fill="#111"/>
<circle cx="152.40" cy="548.80" r="1.05" fill="#111"/>
<circle cx="152.40" cy="553.12" r="1.05" fill="#111"/>
<circle cx="152.40" cy="558.87" r="1.05" fill="#111"/>
<circle cx="152.40" cy="561.74" r="1.05" fill="#111"/>
<circle cx="152.40" cy="564.62" r="1.05" fill="#111"/>
<circle cx="152.40" cy="566.06" r="1.05" fill="#111"/>
<circle cx="152.40" cy="571.81" r="1.05" fill="#111"/>
<circle cx="152.40" cy="573.25" r="1.05" fill="#111"/>
<rect x="162.10" y="556.57" width="8.50" height="22.43" fill="#3db64b" stroke="#2e9a3b" stroke-width="0.5"/>
<line x1="166.35" y1="552.40" x2="166.35" y2="560.31" stroke="#222" stroke-width="0.7"/>
<line x1="164.35" y1="552.40" x2="168.35" y2="552.40" stroke="#222" stroke-width="0.7"/>
<line x1="164.35" y1="560.31" x2="168.35" y2="560.31" stroke="#222" stroke-width="0.7"/>
<circle cx="166.35" cy="524.36" r="1.05" fill="#111"/>
<circle cx="166.35" cy="535.86" r="1.05" fill="#111"/>
<circle cx="166.35" cy="543.05" r="1.05" fill="#111"/>
<circle cx="166.35" cy="552.40" r="1.05" fill="#111"/>
<circle cx="166.35" cy="557.43" r="1.05" fill="#111"/>
<circle cx="166.35" cy="561.74" r="1.05" fill="#111"/>
<circle cx="164.35" cy="564.62" r="1.05" fill="#111"/>
<circle cx="168.35" cy="564.62" r="1.05" fill="#111"/>
<circle cx="166.35" cy="568.93" r="1.05" fill="#111"/>
<rect x="176.30" y="570.37" width="8.90" height="8.63" fill="#1a5592" stroke="#16487c" stroke-width="0.5"/>
<line x1="180.75" y1="568.22" x2="180.75" y2="571.81" stroke="#222" stroke-width="0.7"/>
<line x1="178.75" y1="568.22" x2="182.75" y2="568.22" stroke="#222" stroke-width="0.7"/>
<line x1="178.75" y1="571.81" x2="182.75" y2="571.81" stroke="#222" stroke-width="0.7"/>
<circle cx="180.75" cy="561.74" r="1.05" fill="#111"/>
<circle cx="180.75" cy="568.93" r="1.05" fill="#111"/>
<circle cx="180.75" cy="569.65" r="1.05" fill="#111"/>
<circle cx="180.75" cy="570.37" r="1.05" fill="#111"/>
<circle cx="180.75" cy="571.81" r="1.05" fill="#111"/>
<circle cx="180.75" cy="573.25" r="1.05" fill="#111"/>
<path d="M151.80 508.50V504.70H181.30V508.50" fill="none" stroke="#3a3a3a" stroke-width="0.75"/>
<text x="166.55" y="505.20" font-size="6.5" text-anchor="middle" fill="#2a2a2a" textLength="2.53" lengthAdjust="spacingAndGlyphs" stroke="#2a2a2a" stroke-width="0.25">*</text>
<path d="M166.00 515.00V511.40H181.30V515.00" fill="none" stroke="#3a3a3a" stroke-width="0.75"/>
<text x="173.65" y="511.90" font-size="6.5" text-anchor="middle" fill="#2a2a2a" textLength="2.53" lengthAdjust="spacingAndGlyphs" stroke="#2a2a2a" stroke-width="0.25">*</text>
<text x="152.70" y="589.80" font-size="7.5" text-anchor="end" fill="#333" textLength="49.86" lengthAdjust="spacingAndGlyphs" stroke="#333" stroke-width="0.1" transform="rotate(-45 152.70 589.80)">GVHD + iso mAb</text>
<text x="166.70" y="589.80" font-size="7.5" text-anchor="end" fill="#333" textLength="42.61" lengthAdjust="spacingAndGlyphs" stroke="#333" stroke-width="0.1" transform="rotate(-45 166.70 589.80)">GVHD + M279</text>
<text x="180.90" y="589.80" font-size="7.5" text-anchor="end" fill="#333" textLength="44.42" lengthAdjust="spacingAndGlyphs" stroke="#333" stroke-width="0.1" transform="rotate(-45 180.90 589.80)">TCD + iso mAb</text>
<text x="167.00" y="494.20" font-size="8.5" text-anchor="middle" fill="#3a3a3a" textLength="17.00" lengthAdjust="spacingAndGlyphs" stroke="#3a3a3a" stroke-width="0.22" font-style="italic">Ccl2</text>
<text x="123.00" y="541.50" font-size="7.8" text-anchor="middle" fill="#2e2e2e" stroke="#2e2e2e" stroke-width="0.15" transform="rotate(-90 123.00 541.50)" textLength="61.40" lengthAdjust="spacingAndGlyphs">Fold change (2<tspan font-size="5" dy="-2.2">−ΔΔCt</tspan><tspan dy="2.2">)</tspan></text>
<text x="205.00" y="482.00" font-size="11.5" text-anchor="start" fill="#111" textLength="7.02" lengthAdjust="spacingAndGlyphs" stroke="#111" stroke-width="0.3" font-weight="bold">L</text>
<line x1="243.80" y1="507.10" x2="243.80" y2="579.60" stroke="#111" stroke-width="1.2"/>
<line x1="243.20" y1="579.00" x2="316.70" y2="579.00" stroke="#111" stroke-width="1.2"/>
<line x1="241.10" y1="579.00" x2="243.80" y2="579.00" stroke="#111" stroke-width="1.0"/>
<text x="237.50" y="581.52" font-size="7" text-anchor="end" fill="#2e2e2e" textLength="3.11" lengthAdjust="spacingAndGlyphs" stroke="#2e2e2e" stroke-width="0.22">0</text>
<line x1="241.10" y1="567.10" x2="243.80" y2="567.10" stroke="#111" stroke-width="1.0"/>
<text x="237.50" y="569.62" font-size="7" text-anchor="end" fill="#2e2e2e" textLength="6.23" lengthAdjust="spacingAndGlyphs" stroke="#2e2e2e" stroke-width="0.22">30</text>
<line x1="241.10" y1="555.20" x2="243.80" y2="555.20" stroke="#111" stroke-width="1.0"/>
<text x="237.50" y="557.72" font-size="7" text-anchor="end" fill="#2e2e2e" textLength="6.23" lengthAdjust="spacingAndGlyphs" stroke="#2e2e2e" stroke-width="0.22">60</text>
<line x1="241.10" y1="543.30" x2="243.80" y2="543.30" stroke="#111" stroke-width="1.0"/>
<text x="237.50" y="545.82" font-size="7" text-anchor="end" fill="#2e2e2e" textLength="6.23" lengthAdjust="spacingAndGlyphs" stroke="#2e2e2e" stroke-width="0.22">90</text>
<line x1="241.10" y1="531.40" x2="243.80" y2="531.40" stroke="#111" stroke-width="1.0"/>
<text x="237.50" y="533.92" font-size="7" text-anchor="end" fill="#2e2e2e" textLength="9.34" lengthAdjust="spacingAndGlyphs" stroke="#2e2e2e" stroke-width="0.22">120</text>
<line x1="241.10" y1="519.50" x2="243.80" y2="519.50" stroke="#111" stroke-width="1.0"/>
<text x="237.50" y="522.02" font-size="7" text-anchor="end" fill="#2e2e2e" textLength="9.34" lengthAdjust="spacingAndGlyphs" stroke="#2e2e2e" stroke-width="0.22">150</text>
<line x1="241.10" y1="507.60" x2="243.80" y2="507.60" stroke="#111" stroke-width="1.0"/>
<text x="237.50" y="510.12" font-size="7" text-anchor="end" fill="#2e2e2e" textLength="9.34" lengthAdjust="spacingAndGlyphs" stroke="#2e2e2e" stroke-width="0.22">180</text>
<line x1="255.00" y1="579.00" x2="255.00" y2="581.70" stroke="#222" stroke-width="1.0"/>
<line x1="271.80" y1="579.00" x2="271.80" y2="581.70" stroke="#222" stroke-width="1.0"/>
<line x1="288.60" y1="579.00" x2="288.60" y2="581.70" stroke="#222" stroke-width="1.0"/>
<line x1="305.30" y1="579.00" x2="305.30" y2="581.70" stroke="#222" stroke-width="1.0"/>
<rect x="250.00" y="524.66" width="10.30" height="54.34" fill="#cb1232" stroke="#a50f2a" stroke-width="0.5"/>
<line x1="255.15" y1="516.72" x2="255.15" y2="532.59" stroke="#222" stroke-width="0.7"/>
<line x1="253.15" y1="516.72" x2="257.15" y2="516.72" stroke="#222" stroke-width="0.7"/>
<line x1="253.15" y1="532.59" x2="257.15" y2="532.59" stroke="#222" stroke-width="0.7"/>
<circle cx="250.15" cy="507.60" r="1.05" fill="#111"/>
<circle cx="252.15" cy="507.60" r="1.05" fill="#111"/>
<circle cx="254.15" cy="507.60" r="1.05" fill="#111"/>
<circle cx="256.15" cy="507.60" r="1.05" fill="#111"/>
<circle cx="258.15" cy="507.60" r="1.05" fill="#111"/>
<circle cx="260.15" cy="507.60" r="1.05" fill="#111"/>
<circle cx="254.15" cy="513.55" r="1.05" fill="#111"/>
<circle cx="256.15" cy="513.55" r="1.05" fill="#111"/>
<circle cx="255.15" cy="517.52" r="1.05" fill="#111"/>
<circle cx="255.15" cy="531.40" r="1.05" fill="#111"/>
<circle cx="255.15" cy="533.38" r="1.05" fill="#111"/>
<circle cx="255.15" cy="535.37" r="1.05" fill="#111"/>
<circle cx="255.15" cy="539.33" r="1.05" fill="#111"/>
<circle cx="255.15" cy="543.30" r="1.05" fill="#111"/>
<circle cx="255.15" cy="549.25" r="1.05" fill="#111"/>
<rect x="266.40" y="527.43" width="10.80" height="51.57" fill="#3db64b" stroke="#2e9a3b" stroke-width="0.5"/>
<line x1="271.80" y1="511.17" x2="271.80" y2="542.11" stroke="#222" stroke-width="0.7"/>
<line x1="269.80" y1="511.17" x2="273.80" y2="511.17" stroke="#222" stroke-width="0.7"/>
<line x1="269.80" y1="542.11" x2="273.80" y2="542.11" stroke="#222" stroke-width="0.7"/>
<circle cx="267.80" cy="507.60" r="1.05" fill="#111"/>
<circle cx="271.80" cy="507.60" r="1.05" fill="#111"/>
<circle cx="275.80" cy="507.60" r="1.05" fill="#111"/>
<circle cx="271.80" cy="511.57" r="1.05" fill="#111"/>
<circle cx="271.80" cy="527.43" r="1.05" fill="#111"/>
<circle cx="271.80" cy="529.42" r="1.05" fill="#111"/>
<circle cx="271.80" cy="533.38" r="1.05" fill="#111"/>
<circle cx="271.80" cy="539.33" r="1.05" fill="#111"/>
<circle cx="271.80" cy="543.30" r="1.05" fill="#111"/>
<circle cx="271.80" cy="549.25" r="1.05" fill="#111"/>
<circle cx="271.80" cy="555.20" r="1.05" fill="#111"/>
<rect x="283.20" y="545.28" width="10.30" height="33.72" fill="#1a5592" stroke="#16487c" stroke-width="0.5"/>
<line x1="288.35" y1="536.56" x2="288.35" y2="549.25" stroke="#222" stroke-width="0.7"/>
<line x1="286.35" y1="536.56" x2="290.35" y2="536.56" stroke="#222" stroke-width="0.7"/>
<line x1="286.35" y1="549.25" x2="290.35" y2="549.25" stroke="#222" stroke-width="0.7"/>
<circle cx="285.35" cy="535.37" r="1.05" fill="#111"/>
<circle cx="291.35" cy="537.35" r="1.05" fill="#111"/>
<circle cx="288.35" cy="543.30" r="1.05" fill="#111"/>
<circle cx="286.35" cy="545.28" r="1.05" fill="#111"/>
<circle cx="290.35" cy="545.28" r="1.05" fill="#111"/>
<circle cx="288.35" cy="551.23" r="1.05" fill="#111"/>
<circle cx="288.35" cy="567.10" r="1.05" fill="#111"/>
<rect x="300.00" y="527.04" width="10.20" height="51.96" fill="#f7941d" stroke="#d97d12" stroke-width="0.5"/>
<line x1="305.10" y1="509.58" x2="305.10" y2="548.06" stroke="#222" stroke-width="0.7"/>
<line x1="303.10" y1="509.58" x2="307.10" y2="509.58" stroke="#222" stroke-width="0.7"/>
<line x1="303.10" y1="548.06" x2="307.10" y2="548.06" stroke="#222" stroke-width="0.7"/>
<circle cx="305.10" cy="509.58" r="1.1" fill="none" stroke="#333" stroke-width="0.5"/>
<circle cx="307.10" cy="511.57" r="1.1" fill="none" stroke="#333" stroke-width="0.5"/>
<circle cx="303.10" cy="513.55" r="1.1" fill="none" stroke="#333" stroke-width="0.5"/>
<circle cx="305.10" cy="547.27" r="0.9" fill="#111"/>
<circle cx="305.10" cy="551.23" r="0.9" fill="#111"/>
<path d="M254.30 497.30V493.20H289.00V497.30" fill="none" stroke="#3a3a3a" stroke-width="0.75"/>
<text x="271.65" y="493.70" font-size="6.5" text-anchor="middle" fill="#2a2a2a" textLength="5.06" lengthAdjust="spacingAndGlyphs" stroke="#2a2a2a" stroke-width="0.25">**</text>
<path d="M271.30 503.00V499.70H289.00V503.00" fill="none" stroke="#3a3a3a" stroke-width="0.75"/>
<text x="280.15" y="500.60" font-size="6.5" text-anchor="middle" fill="#2a2a2a" textLength="2.53" lengthAdjust="spacingAndGlyphs" stroke="#2a2a2a" stroke-width="0.25">*</text>
<text x="255.30" y="589.80" font-size="7.5" text-anchor="end" fill="#333" textLength="49.86" lengthAdjust="spacingAndGlyphs" stroke="#333" stroke-width="0.1" transform="rotate(-45 255.30 589.80)">GVHD + iso mAb</text>
<text x="272.10" y="589.80" font-size="7.5" text-anchor="end" fill="#333" textLength="42.61" lengthAdjust="spacingAndGlyphs" stroke="#333" stroke-width="0.1" transform="rotate(-45 272.10 589.80)">GVHD + M279</text>
<text x="288.90" y="589.80" font-size="7.5" text-anchor="end" fill="#333" textLength="44.42" lengthAdjust="spacingAndGlyphs" stroke="#333" stroke-width="0.1" transform="rotate(-45 288.90 589.80)">TCD + iso mAb</text>
<text x="305.60" y="589.80" font-size="7.5" text-anchor="end" fill="#333" textLength="37.17" lengthAdjust="spacingAndGlyphs" stroke="#333" stroke-width="0.1" transform="rotate(-45 305.60 589.80)">TCD + M279</text>
<text x="222.10" y="540.50" font-size="7.8" text-anchor="middle" fill="#2e2e2e" stroke="#2e2e2e" stroke-width="0.15" transform="rotate(-90 222.10 540.50)" textLength="66.00" lengthAdjust="spacingAndGlyphs">Time spent mobile (s)</text>
<text x="128.50" y="175.50" font-size="11.5" text-anchor="start" fill="#111" textLength="7.67" lengthAdjust="spacingAndGlyphs" stroke="#111" stroke-width="0.3" font-weight="bold">E</text>
<line x1="166.50" y1="218.50" x2="166.50" y2="261.75" stroke="#1a1a1a" stroke-width="1.1"/>
<line x1="165.95" y1="261.20" x2="233.80" y2="261.20" stroke="#1a1a1a" stroke-width="1.1"/>
<line x1="166.50" y1="194.60" x2="166.50" y2="213.10" stroke="#1a1a1a" stroke-width="1.0"/>
<line x1="164.90" y1="213.10" x2="167.00" y2="213.10" stroke="#1a1a1a" stroke-width="0.9"/>
<line x1="164.90" y1="218.50" x2="167.00" y2="218.50" stroke="#1a1a1a" stroke-width="0.9"/>
<line x1="163.80" y1="194.60" x2="166.50" y2="194.60" stroke="#1a1a1a" stroke-width="0.9"/>
<text x="160.40" y="197.12" font-size="7" text-anchor="end" fill="#2e2e2e" textLength="13.24" lengthAdjust="spacingAndGlyphs" stroke="#2e2e2e" stroke-width="0.22">1500</text>
<line x1="163.80" y1="204.20" x2="166.50" y2="204.20" stroke="#1a1a1a" stroke-width="0.9"/>
<text x="160.40" y="206.72" font-size="7" text-anchor="end" fill="#2e2e2e" textLength="13.24" lengthAdjust="spacingAndGlyphs" stroke="#2e2e2e" stroke-width="0.22">1250</text>
<text x="160.40" y="215.62" font-size="7" text-anchor="end" fill="#2e2e2e" textLength="13.24" lengthAdjust="spacingAndGlyphs" stroke="#2e2e2e" stroke-width="0.22">1000</text>
<text x="160.40" y="221.02" font-size="7" text-anchor="end" fill="#2e2e2e" textLength="9.93" lengthAdjust="spacingAndGlyphs" stroke="#2e2e2e" stroke-width="0.22">500</text>
<line x1="163.80" y1="240.00" x2="166.50" y2="240.00" stroke="#1a1a1a" stroke-width="0.9"/>
<text x="160.40" y="242.52" font-size="7" text-anchor="end" fill="#2e2e2e" textLength="9.93" lengthAdjust="spacingAndGlyphs" stroke="#2e2e2e" stroke-width="0.22">250</text>
<line x1="163.80" y1="260.80" x2="166.50" y2="260.80" stroke="#1a1a1a" stroke-width="0.9"/>
<text x="160.40" y="263.32" font-size="7" text-anchor="end" fill="#2e2e2e" textLength="3.31" lengthAdjust="spacingAndGlyphs" stroke="#2e2e2e" stroke-width="0.22">0</text>
<line x1="177.00" y1="261.20" x2="177.00" y2="263.90" stroke="#1a1a1a" stroke-width="0.9"/>
<line x1="192.70" y1="261.20" x2="192.70" y2="263.90" stroke="#1a1a1a" stroke-width="0.9"/>
<line x1="208.10" y1="261.20" x2="208.10" y2="263.90" stroke="#1a1a1a" stroke-width="0.9"/>
<line x1="223.75" y1="261.20" x2="223.75" y2="263.90" stroke="#1a1a1a" stroke-width="0.9"/>
<linearGradient id="vg1" gradientUnits="userSpaceOnUse" x1="0" y1="254.60" x2="0" y2="218.50"><stop offset="0" stop-color="#c01030"/><stop offset="0.363" stop-color="#c01030"/><stop offset="0.483" stop-color="#5a5a5a"/><stop offset="1" stop-color="#8a8a8a"/></linearGradient>
<linearGradient id="vg1s" gradientUnits="userSpaceOnUse" x1="0" y1="254.60" x2="0" y2="218.50"><stop offset="0" stop-color="#701020"/><stop offset="0.363" stop-color="#701020"/><stop offset="0.483" stop-color="#555"/><stop offset="1" stop-color="#999"/></linearGradient>
<path d="M173.70 254.60 L172.25 253.90 L172.00 252.60 L173.25 250.60 L174.35 248.60 L175.30 246.10 L175.90 243.60 L176.25 240.60 L176.45 236.60 L176.55 230.60 L176.62 218.50 L177.38 218.50 L177.45 230.60 L177.55 236.60 L177.75 240.60 L178.10 243.60 L178.70 246.10 L179.65 248.60 L180.75 250.60 L182.00 252.60 L181.75 253.90 L180.30 254.60Z" fill="url(#vg1)" stroke="url(#vg1s)" stroke-width="0.45" stroke-linejoin="round"/>
<line x1="173.00" y1="251.00" x2="181.00" y2="251.00" stroke="#701020" stroke-width="0.55"/>
<line x1="174.02" y1="249.20" x2="179.98" y2="249.20" stroke="#701020" stroke-width="0.55"/>
<linearGradient id="vg2" gradientUnits="userSpaceOnUse" x1="0" y1="254.60" x2="0" y2="218.50"><stop offset="0" stop-color="#34a844"/><stop offset="0.626" stop-color="#34a844"/><stop offset="0.746" stop-color="#5a5a5a"/><stop offset="1" stop-color="#8a8a8a"/></linearGradient>
<linearGradient id="vg2s" gradientUnits="userSpaceOnUse" x1="0" y1="254.60" x2="0" y2="218.50"><stop offset="0" stop-color="#1e5a26"/><stop offset="0.626" stop-color="#1e5a26"/><stop offset="0.746" stop-color="#555"/><stop offset="1" stop-color="#999"/></linearGradient>
<path d="M189.40 254.60 L187.95 253.90 L187.70 252.60 L188.95 250.60 L189.25 248.60 L190.49 246.10 L191.27 243.60 L191.72 240.60 L192.15 236.60 L192.25 230.60 L192.32 218.50 L193.08 218.50 L193.15 230.60 L193.25 236.60 L193.67 240.60 L194.13 243.60 L194.91 246.10 L196.14 248.60 L196.45 250.60 L197.70 252.60 L197.45 253.90 L196.00 254.60Z" fill="url(#vg2)" stroke="url(#vg2s)" stroke-width="0.45" stroke-linejoin="round"/>
<line x1="188.57" y1="251.20" x2="196.82" y2="251.20" stroke="#1e5a26" stroke-width="0.55"/>
<line x1="189.45" y1="248.20" x2="195.95" y2="248.20" stroke="#1e5a26" stroke-width="0.55"/>
<linearGradient id="vg3" gradientUnits="userSpaceOnUse" x1="0" y1="254.60" x2="0" y2="218.50"><stop offset="0" stop-color="#1a4f8a"/><stop offset="0.488" stop-color="#1a4f8a"/><stop offset="0.608" stop-color="#5a5a5a"/><stop offset="1" stop-color="#8a8a8a"/></linearGradient>
<linearGradient id="vg3s" gradientUnits="userSpaceOnUse" x1="0" y1="254.60" x2="0" y2="218.50"><stop offset="0" stop-color="#102a4a"/><stop offset="0.488" stop-color="#102a4a"/><stop offset="0.608" stop-color="#555"/><stop offset="1" stop-color="#999"/></linearGradient>
<path d="M204.87 254.60 L203.44 253.90 L203.20 252.60 L204.42 250.60 L205.50 248.60 L206.43 246.10 L207.02 243.60 L207.35 240.60 L207.55 236.60 L207.65 230.60 L207.72 218.50 L208.48 218.50 L208.55 230.60 L208.65 236.60 L208.85 240.60 L209.18 243.60 L209.77 246.10 L210.70 248.60 L211.78 250.60 L213.00 252.60 L212.75 253.90 L211.33 254.60Z" fill="url(#vg3)" stroke="url(#vg3s)" stroke-width="0.45" stroke-linejoin="round"/>
<line x1="204.18" y1="251.00" x2="212.02" y2="251.00" stroke="#102a4a" stroke-width="0.55"/>
<line x1="205.18" y1="249.20" x2="211.02" y2="249.20" stroke="#102a4a" stroke-width="0.55"/>
<linearGradient id="vg4" gradientUnits="userSpaceOnUse" x1="0" y1="254.60" x2="0" y2="218.50"><stop offset="0" stop-color="#f09028"/><stop offset="0.432" stop-color="#f09028"/><stop offset="0.552" stop-color="#5a5a5a"/><stop offset="1" stop-color="#8a8a8a"/></linearGradient>
<linearGradient id="vg4s" gradientUnits="userSpaceOnUse" x1="0" y1="254.60" x2="0" y2="218.50"><stop offset="0" stop-color="#7a4a14"/><stop offset="0.432" stop-color="#7a4a14"/><stop offset="0.552" stop-color="#555"/><stop offset="1" stop-color="#999"/></linearGradient>
<path d="M220.58 254.60 L219.19 253.90 L218.95 252.60 L220.15 250.60 L220.57 248.60 L221.71 246.10 L222.43 243.60 L222.81 240.60 L223.20 236.60 L223.30 230.60 L223.37 218.50 L224.13 218.50 L224.20 230.60 L224.30 236.60 L224.69 240.60 L225.07 243.60 L225.79 246.10 L226.93 248.60 L227.35 250.60 L228.55 252.60 L228.31 253.90 L226.92 254.60Z" fill="url(#vg4)" stroke="url(#vg4s)" stroke-width="0.45" stroke-linejoin="round"/>
<line x1="219.79" y1="251.20" x2="227.71" y2="251.20" stroke="#7a4a14" stroke-width="0.55"/>
<line x1="220.75" y1="248.20" x2="226.75" y2="248.20" stroke="#7a4a14" stroke-width="0.55"/>
<line x1="177.00" y1="204.60" x2="177.00" y2="213.00" stroke="#333" stroke-width="0.8"/>
<line x1="192.70" y1="200.00" x2="192.70" y2="213.00" stroke="#333" stroke-width="0.8"/>
<line x1="208.10" y1="205.40" x2="208.10" y2="213.00" stroke="#333" stroke-width="0.8"/>
<path d="M176.60 196.10V193.40H192.80V196.10" fill="none" stroke="#3a3a3a" stroke-width="0.75"/>
<text x="184.70" y="194.40" font-size="6.5" text-anchor="middle" fill="#2a2a2a" textLength="10.12" lengthAdjust="spacingAndGlyphs" stroke="#2a2a2a" stroke-width="0.25">****</text>
<path d="M192.80 196.10V193.40H209.50V196.10" fill="none" stroke="#3a3a3a" stroke-width="0.75"/>
<text x="201.15" y="194.40" font-size="6.5" text-anchor="middle" fill="#2a2a2a" textLength="10.12" lengthAdjust="spacingAndGlyphs" stroke="#2a2a2a" stroke-width="0.25">****</text>
<path d="M209.50 196.10V193.40H225.70V196.10" fill="none" stroke="#3a3a3a" stroke-width="0.75"/>
<text x="217.60" y="194.40" font-size="6.5" text-anchor="middle" fill="#2a2a2a" textLength="5.06" lengthAdjust="spacingAndGlyphs" stroke="#2a2a2a" stroke-width="0.25">**</text>
<path d="M193.30 187.10V184.30H225.70V187.10" fill="none" stroke="#3a3a3a" stroke-width="0.75"/>
<text x="209.50" y="185.10" font-size="6.5" text-anchor="middle" fill="#2a2a2a" textLength="10.12" lengthAdjust="spacingAndGlyphs" stroke="#2a2a2a" stroke-width="0.25">****</text>
<text x="177.30" y="271.60" font-size="7.5" text-anchor="end" fill="#333" textLength="49.86" lengthAdjust="spacingAndGlyphs" stroke="#333" stroke-width="0.1" transform="rotate(-45 177.30 271.60)">GVHD + iso mAb</text>
<text x="193.00" y="271.60" font-size="7.5" text-anchor="end" fill="#333" textLength="42.61" lengthAdjust="spacingAndGlyphs" stroke="#333" stroke-width="0.1" transform="rotate(-45 193.00 271.60)">GVHD + M279</text>
<text x="208.40" y="271.60" font-size="7.5" text-anchor="end" fill="#333" textLength="44.42" lengthAdjust="spacingAndGlyphs" stroke="#333" stroke-width="0.1" transform="rotate(-45 208.40 271.60)">TCD + iso mAb</text>
<text x="224.05" y="271.60" font-size="7.5" text-anchor="end" fill="#333" textLength="37.17" lengthAdjust="spacingAndGlyphs" stroke="#333" stroke-width="0.1" transform="rotate(-45 224.05 271.60)">TCD + M279</text>
<text x="131.70" y="228.50" font-size="8" text-anchor="middle" fill="#2e2e2e" stroke="#2e2e2e" stroke-width="0.15" transform="rotate(-90 131.70 228.50)" textLength="41.20" lengthAdjust="spacingAndGlyphs">Hippocampus</text>
<text x="141.30" y="226.70" font-size="8" text-anchor="middle" fill="#2e2e2e" stroke="#2e2e2e" stroke-width="0.15" transform="rotate(-90 141.30 226.70)" textLength="56.20" lengthAdjust="spacingAndGlyphs">IBA1<tspan font-size="5" dy="-2.2">+</tspan><tspan dy="2.2"> cell size (px</tspan><tspan font-size="5" dy="-2.2">2</tspan><tspan dy="2.2">)</tspan></text>
<text x="128.00" y="331.00" font-size="11.5" text-anchor="start" fill="#111" textLength="8.31" lengthAdjust="spacingAndGlyphs" stroke="#111" stroke-width="0.3" font-weight="bold">H</text>
<line x1="174.80" y1="366.50" x2="174.80" y2="412.80" stroke="#1a1a1a" stroke-width="1.1"/>
<line x1="174.25" y1="412.25" x2="240.60" y2="412.25" stroke="#1a1a1a" stroke-width="1.1"/>
<line x1="174.80" y1="340.80" x2="174.80" y2="360.40" stroke="#1a1a1a" stroke-width="1.0"/>
<line x1="173.20" y1="360.40" x2="175.30" y2="360.40" stroke="#1a1a1a" stroke-width="0.9"/>
<line x1="173.20" y1="366.50" x2="175.30" y2="366.50" stroke="#1a1a1a" stroke-width="0.9"/>
<line x1="172.10" y1="340.80" x2="174.80" y2="340.80" stroke="#1a1a1a" stroke-width="0.9"/>
<text x="168.70" y="343.32" font-size="7" text-anchor="end" fill="#2e2e2e" textLength="13.24" lengthAdjust="spacingAndGlyphs" stroke="#2e2e2e" stroke-width="0.22">1250</text>
<text x="168.70" y="362.72" font-size="7" text-anchor="end" fill="#2e2e2e" textLength="13.24" lengthAdjust="spacingAndGlyphs" stroke="#2e2e2e" stroke-width="0.22">1000</text>
<text x="168.70" y="368.52" font-size="7" text-anchor="end" fill="#2e2e2e" textLength="9.93" lengthAdjust="spacingAndGlyphs" stroke="#2e2e2e" stroke-width="0.22">400</text>
<line x1="172.10" y1="389.20" x2="174.80" y2="389.20" stroke="#1a1a1a" stroke-width="0.9"/>
<text x="168.70" y="391.72" font-size="7" text-anchor="end" fill="#2e2e2e" textLength="9.93" lengthAdjust="spacingAndGlyphs" stroke="#2e2e2e" stroke-width="0.22">200</text>
<line x1="172.10" y1="411.90" x2="174.80" y2="411.90" stroke="#1a1a1a" stroke-width="0.9"/>
<text x="168.70" y="414.42" font-size="7" text-anchor="end" fill="#2e2e2e" textLength="3.31" lengthAdjust="spacingAndGlyphs" stroke="#2e2e2e" stroke-width="0.22">0</text>
<line x1="184.80" y1="412.25" x2="184.80" y2="414.90" stroke="#1a1a1a" stroke-width="0.9"/>
<line x1="200.20" y1="412.25" x2="200.20" y2="414.90" stroke="#1a1a1a" stroke-width="0.9"/>
<line x1="215.50" y1="412.25" x2="215.50" y2="414.90" stroke="#1a1a1a" stroke-width="0.9"/>
<line x1="230.60" y1="412.25" x2="230.60" y2="414.90" stroke="#1a1a1a" stroke-width="0.9"/>
<linearGradient id="vg5" gradientUnits="userSpaceOnUse" x1="0" y1="403.40" x2="0" y2="366.50"><stop offset="0" stop-color="#c01030"/><stop offset="0.526" stop-color="#c01030"/><stop offset="0.646" stop-color="#5a5a5a"/><stop offset="1" stop-color="#8a8a8a"/></linearGradient>
<linearGradient id="vg5s" gradientUnits="userSpaceOnUse" x1="0" y1="403.40" x2="0" y2="366.50"><stop offset="0" stop-color="#701020"/><stop offset="0.526" stop-color="#701020"/><stop offset="0.646" stop-color="#555"/><stop offset="1" stop-color="#999"/></linearGradient>
<path d="M181.83 403.40 L180.53 402.59 L180.30 401.10 L181.43 398.80 L182.42 396.50 L183.27 393.62 L183.81 390.75 L184.05 387.30 L184.25 382.70 L184.35 375.80 L184.42 366.50 L185.18 366.50 L185.25 375.80 L185.35 382.70 L185.55 387.30 L185.79 390.75 L186.33 393.62 L187.19 396.50 L188.18 398.80 L189.30 401.10 L189.08 402.59 L187.77 403.40Z" fill="url(#vg5)" stroke="url(#vg5s)" stroke-width="0.45" stroke-linejoin="round"/>
<line x1="180.84" y1="400.00" x2="188.76" y2="400.00" stroke="#701020" stroke-width="0.55"/>
<line x1="181.98" y1="397.50" x2="187.62" y2="397.50" stroke="#701020" stroke-width="0.55"/>
<linearGradient id="vg6" gradientUnits="userSpaceOnUse" x1="0" y1="403.40" x2="0" y2="366.50"><stop offset="0" stop-color="#34a844"/><stop offset="0.553" stop-color="#34a844"/><stop offset="0.673" stop-color="#5a5a5a"/><stop offset="1" stop-color="#8a8a8a"/></linearGradient>
<linearGradient id="vg6s" gradientUnits="userSpaceOnUse" x1="0" y1="403.40" x2="0" y2="366.50"><stop offset="0" stop-color="#1e5a26"/><stop offset="0.553" stop-color="#1e5a26"/><stop offset="0.673" stop-color="#555"/><stop offset="1" stop-color="#999"/></linearGradient>
<path d="M197.23 403.40 L195.92 402.59 L195.70 401.10 L196.82 398.80 L197.46 396.50 L198.44 393.62 L199.06 390.75 L199.34 387.30 L199.65 382.70 L199.75 375.80 L199.82 366.50 L200.58 366.50 L200.65 375.80 L200.75 382.70 L201.06 387.30 L201.34 390.75 L201.96 393.62 L202.94 396.50 L203.57 398.80 L204.70 401.10 L204.47 402.59 L203.17 403.40Z" fill="url(#vg6)" stroke="url(#vg6s)" stroke-width="0.45" stroke-linejoin="round"/>
<line x1="196.24" y1="400.00" x2="204.16" y2="400.00" stroke="#1e5a26" stroke-width="0.55"/>
<line x1="197.32" y1="397.00" x2="203.08" y2="397.00" stroke="#1e5a26" stroke-width="0.55"/>
<linearGradient id="vg7" gradientUnits="userSpaceOnUse" x1="0" y1="403.40" x2="0" y2="366.50"><stop offset="0" stop-color="#1a4f8a"/><stop offset="0.526" stop-color="#1a4f8a"/><stop offset="0.646" stop-color="#5a5a5a"/><stop offset="1" stop-color="#8a8a8a"/></linearGradient>
<linearGradient id="vg7s" gradientUnits="userSpaceOnUse" x1="0" y1="403.40" x2="0" y2="366.50"><stop offset="0" stop-color="#102a4a"/><stop offset="0.526" stop-color="#102a4a"/><stop offset="0.646" stop-color="#555"/><stop offset="1" stop-color="#999"/></linearGradient>
<path d="M212.53 403.40 L211.22 402.59 L211.00 401.10 L212.12 398.80 L213.12 396.50 L213.97 393.62 L214.51 390.75 L214.75 387.30 L214.95 382.70 L215.05 375.80 L215.12 366.50 L215.88 366.50 L215.95 375.80 L216.05 382.70 L216.25 387.30 L216.49 390.75 L217.03 393.62 L217.88 396.50 L218.88 398.80 L220.00 401.10 L219.78 402.59 L218.47 403.40Z" fill="url(#vg7)" stroke="url(#vg7s)" stroke-width="0.45" stroke-linejoin="round"/>
<line x1="211.54" y1="400.00" x2="219.46" y2="400.00" stroke="#102a4a" stroke-width="0.55"/>
<line x1="212.68" y1="397.50" x2="218.32" y2="397.50" stroke="#102a4a" stroke-width="0.55"/>
<linearGradient id="vg8" gradientUnits="userSpaceOnUse" x1="0" y1="403.40" x2="0" y2="366.50"><stop offset="0" stop-color="#f09028"/><stop offset="0.553" stop-color="#f09028"/><stop offset="0.673" stop-color="#5a5a5a"/><stop offset="1" stop-color="#8a8a8a"/></linearGradient>
<linearGradient id="vg8s" gradientUnits="userSpaceOnUse" x1="0" y1="403.40" x2="0" y2="366.50"><stop offset="0" stop-color="#7a4a14"/><stop offset="0.553" stop-color="#7a4a14"/><stop offset="0.673" stop-color="#555"/><stop offset="1" stop-color="#999"/></linearGradient>
<path d="M227.76 403.40 L226.51 402.59 L226.30 401.10 L227.38 398.80 L227.87 396.50 L228.85 393.62 L229.46 390.75 L229.70 387.30 L230.05 382.70 L230.15 375.80 L230.22 366.50 L230.98 366.50 L231.05 375.80 L231.15 382.70 L231.50 387.30 L231.74 390.75 L232.35 393.62 L233.33 396.50 L233.82 398.80 L234.90 401.10 L234.69 402.59 L233.44 403.40Z" fill="url(#vg8)" stroke="url(#vg8s)" stroke-width="0.45" stroke-linejoin="round"/>
<line x1="226.81" y1="400.00" x2="234.39" y2="400.00" stroke="#7a4a14" stroke-width="0.55"/>
<line x1="227.76" y1="397.00" x2="233.44" y2="397.00" stroke="#7a4a14" stroke-width="0.55"/>
<line x1="184.80" y1="348.80" x2="184.80" y2="359.60" stroke="#333" stroke-width="0.8"/>
<line x1="200.20" y1="351.90" x2="200.20" y2="359.60" stroke="#333" stroke-width="0.8"/>
<text x="185.10" y="422.70" font-size="7.5" text-anchor="end" fill="#333" textLength="49.86" lengthAdjust="spacingAndGlyphs" stroke="#333" stroke-width="0.1" transform="rotate(-45 185.10 422.70)">GVHD + iso mAb</text>
<text x="200.50" y="422.70" font-size="7.5" text-anchor="end" fill="#333" textLength="42.61" lengthAdjust="spacingAndGlyphs" stroke="#333" stroke-width="0.1" transform="rotate(-45 200.50 422.70)">GVHD + M279</text>
<text x="215.80" y="422.70" font-size="7.5" text-anchor="end" fill="#333" textLength="44.42" lengthAdjust="spacingAndGlyphs" stroke="#333" stroke-width="0.1" transform="rotate(-45 215.80 422.70)">TCD + iso mAb</text>
<text x="230.90" y="422.70" font-size="7.5" text-anchor="end" fill="#333" textLength="37.17" lengthAdjust="spacingAndGlyphs" stroke="#333" stroke-width="0.1" transform="rotate(-45 230.90 422.70)">TCD + M279</text>
<text x="139.30" y="377.00" font-size="8.3" text-anchor="middle" fill="#2e2e2e" stroke="#2e2e2e" stroke-width="0.15" transform="rotate(-90 139.30 377.00)" textLength="19.10" lengthAdjust="spacingAndGlyphs">Cortex</text>
<text x="149.00" y="376.40" font-size="8" text-anchor="middle" fill="#2e2e2e" stroke="#2e2e2e" stroke-width="0.15" transform="rotate(-90 149.00 376.40)" textLength="58.40" lengthAdjust="spacingAndGlyphs">Iba1<tspan font-size="5" dy="-2.2">+</tspan><tspan dy="2.2"> cell size (px</tspan><tspan font-size="5" dy="-2.2">2</tspan><tspan dy="2.2">)</tspan></text>
<defs>
<filter id="b1" x="-20%" y="-20%" width="140%" height="140%"><feGaussianBlur stdDeviation="0.9"/></filter>
<filter id="b2" x="-20%" y="-20%" width="140%" height="140%"><feGaussianBlur stdDeviation="2"/></filter>
<filter id="b05"><feGaussianBlur stdDeviation="0.45"/></filter>
<filter id="b4" x="-50%" y="-50%" width="200%" height="200%"><feGaussianBlur stdDeviation="4"/></filter>
</defs>
<text x="245.50" y="17.00" font-size="11.5" text-anchor="start" fill="#111" textLength="8.31" lengthAdjust="spacingAndGlyphs" stroke="#111" stroke-width="0.3" font-weight="bold">C</text>
<text x="286.50" y="37.60" font-size="7.5" text-anchor="middle" fill="#333" textLength="49.86" lengthAdjust="spacingAndGlyphs" stroke="#333" stroke-width="0.1">GVHD + iso mAb</text>
<text x="351.50" y="37.60" font-size="7.5" text-anchor="middle" fill="#333" textLength="42.61" lengthAdjust="spacingAndGlyphs" stroke="#333" stroke-width="0.1">GVHD + M279</text>
<text x="416.50" y="37.60" font-size="7.5" text-anchor="middle" fill="#333" textLength="44.42" lengthAdjust="spacingAndGlyphs" stroke="#333" stroke-width="0.1">TCD + iso mAb</text>
<text x="481.50" y="37.60" font-size="7.5" text-anchor="middle" fill="#333" textLength="37.17" lengthAdjust="spacingAndGlyphs" stroke="#333" stroke-width="0.1">TCD + M279</text>
<text x="252.2" y="74" font-size="7.3" text-anchor="middle" fill="#444" stroke="#444" stroke-width="0.08" transform="rotate(-90 252.2 74)" textLength="40" lengthAdjust="spacingAndGlyphs">Hippocampus</text>
<clipPath id="cp1"><rect x="255" y="42" width="63.5" height="63"/></clipPath><g clip-path="url(#cp1)">
<rect x="255.00" y="42.00" width="64.00" height="63.00" fill="#2a0a26" />
<filter id="tx1" x="255" y="42" width="64" height="63" filterUnits="userSpaceOnUse" color-interpolation-filters="sRGB"><feTurbulence type="fractalNoise" baseFrequency="0.1" numOctaves="2" seed="332"/><feColorMatrix type="matrix" values="0 0 0 0 0.306 0 0 0 0 0.055 0 0 0 0 0.267 3 0 0 0 -1.2"/><feGaussianBlur stdDeviation="1"/></filter>
<rect x="255" y="42" width="64" height="63" fill="#000" filter="url(#tx1)" opacity="0.8"/>
<filter id="tx2" x="255" y="42" width="64" height="63" filterUnits="userSpaceOnUse" color-interpolation-filters="sRGB"><feTurbulence type="fractalNoise" baseFrequency="0.3" numOctaves="2" seed="971"/><feColorMatrix type="matrix" values="0 0 0 0 0.627 0 0 0 0 0.220 0 0 0 0 0.439 4 0 0 0 -2.4"/><feGaussianBlur stdDeviation="0.6"/></filter>
<rect x="255" y="42" width="64" height="63" fill="#000" filter="url(#tx2)" opacity="0.6"/>
<filter id="tx3" x="255" y="42" width="64" height="63" filterUnits="userSpaceOnUse" color-interpolation-filters="sRGB"><feTurbulence type="fractalNoise" baseFrequency="0.5" numOctaves="2" seed="155"/><feColorMatrix type="matrix" values="0 0 0 0 0.816 0 0 0 0 0.627 0 0 0 0 0.816 5 0 0 0 -3.4"/><feGaussianBlur stdDeviation="0.4"/></filter>
<rect x="255" y="42" width="64" height="63" fill="#000" filter="url(#tx3)" opacity="0.55"/>
<filter id="tx4" x="255" y="86" width="64" height="19" filterUnits="userSpaceOnUse" color-interpolation-filters="sRGB"><feTurbulence type="fractalNoise" baseFrequency="0.35" numOctaves="2" seed="405"/><feColorMatrix type="matrix" values="0 0 0 0 0.690 0 0 0 0 0.220 0 0 0 0 0.314 4 0 0 0 -2.2"/><feGaussianBlur stdDeviation="0.6"/></filter>
<rect x="255" y="86" width="64" height="19" fill="#000" filter="url(#tx4)" opacity="0.6"/>
<filter id="tx5" x="255" y="86" width="64" height="19" filterUnits="userSpaceOnUse" color-interpolation-filters="sRGB"><feTurbulence type="fractalNoise" baseFrequency="0.5" numOctaves="2" seed="667"/><feColorMatrix type="matrix" values="0 0 0 0 0.878 0 0 0 0 0.627 0 0 0 0 0.627 5 0 0 0 -3.3"/><feGaussianBlur stdDeviation="0.4"/></filter>
<rect x="255" y="86" width="64" height="19" fill="#000" filter="url(#tx5)" opacity="0.6"/>
<path d="M250.0 82.3 L255.0 82.3 L267.0 80.5 L280.0 75.5 L290.0 72.5 L322.0 71.5 L322.0 76.2 L300.0 77.4 L285.0 80.5 L275.0 84.2 L269.0 85.5 L275.0 86.2 L290.0 84.6 L300.0 85.0 L322.0 86.8 L322.0 95.5 L300.0 92.2 L280.0 90.3 L255.0 92.0 L250.0 92.0Z" fill="#5a42cc" opacity="1.0" filter="url(#b1)"/>
<filter id="tx6" x="255" y="70" width="64" height="35" filterUnits="userSpaceOnUse" color-interpolation-filters="sRGB"><feTurbulence type="fractalNoise" baseFrequency="0.35" numOctaves="2" seed="50"/><feColorMatrix type="matrix" values="0 0 0 0 0.541 0 0 0 0 0.376 0 0 0 0 0.816 4 0 0 0 -2.4"/><feGaussianBlur stdDeviation="0.6"/></filter>
<rect x="255" y="70" width="64" height="35" fill="#000" filter="url(#tx6)" opacity="0.35"/>
<filter id="tx7" x="255" y="70" width="64" height="35" filterUnits="userSpaceOnUse" color-interpolation-filters="sRGB"><feTurbulence type="fractalNoise" baseFrequency="0.5" numOctaves="2" seed="75"/><feColorMatrix type="matrix" values="0 0 0 0 0.816 0 0 0 0 0.439 0 0 0 0 0.627 5 0 0 0 -3.3"/><feGaussianBlur stdDeviation="0.4"/></filter>
<rect x="255" y="70" width="64" height="35" fill="#000" filter="url(#tx7)" opacity="0.45"/>
<g filter="url(#b05)">
<circle cx="269.8" cy="89.6" r="1.07" fill="#30a050" opacity="0.51"/>
<circle cx="256.5" cy="95.1" r="0.79" fill="#30a050" opacity="0.61"/>
<circle cx="269.9" cy="90.1" r="0.78" fill="#30a050" opacity="0.69"/>
<circle cx="256.1" cy="98.0" r="0.64" fill="#40c060" opacity="0.42"/>
<circle cx="270.5" cy="92.9" r="0.72" fill="#40c060" opacity="0.69"/>
<circle cx="265.1" cy="99.6" r="0.68" fill="#30a050" opacity="0.72"/>
<circle cx="261.7" cy="97.3" r="0.65" fill="#40c060" opacity="0.71"/>
<circle cx="263.9" cy="97.0" r="1.22" fill="#60e080" opacity="0.69"/>
</g>
<g filter="url(#b05)"><line x1="274.81" y1="67.42" x2="276.70" y2="68.74" stroke="#fff" stroke-width="1.1"/><path d="M278.50 70.00L275.95 69.80L277.44 67.67Z" fill="#fff"/></g>
<g filter="url(#b05)"><line x1="268.81" y1="72.92" x2="270.70" y2="74.24" stroke="#fff" stroke-width="1.1"/><path d="M272.50 75.50L269.95 75.30L271.44 73.17Z" fill="#fff"/></g>
<line x1="306.00" y1="100.00" x2="310.00" y2="100.00" stroke="#bbb" stroke-width="0.8"/>
<rect x="288" y="42" width="31" height="29.5" fill="#4232b0"/>
<ellipse cx="302" cy="60" rx="14" ry="10" fill="#101838" opacity="0.85" filter="url(#b2)"/>
<filter id="tx8" x="290" y="48" width="27" height="22" filterUnits="userSpaceOnUse" color-interpolation-filters="sRGB"><feTurbulence type="fractalNoise" baseFrequency="0.22" numOctaves="2" seed="465"/><feColorMatrix type="matrix" values="0 0 0 0 0.376 0 0 0 0 0.941 0 0 0 0 1.000 4 0 0 0 -2.3"/><feGaussianBlur stdDeviation="0.6"/></filter>
<rect x="290" y="48" width="27" height="22" fill="#000" filter="url(#tx8)" opacity="0.85"/>
<filter id="tx9" x="290" y="50" width="27" height="20" filterUnits="userSpaceOnUse" color-interpolation-filters="sRGB"><feTurbulence type="fractalNoise" baseFrequency="0.22" numOctaves="2" seed="371"/><feColorMatrix type="matrix" values="0 0 0 0 0.251 0 0 0 0 0.753 0 0 0 0 0.439 4 0 0 0 -2.35"/><feGaussianBlur stdDeviation="0.6"/></filter>
<rect x="290" y="50" width="27" height="20" fill="#000" filter="url(#tx9)" opacity="0.8"/>
<filter id="tx10" x="290" y="48" width="27" height="22" filterUnits="userSpaceOnUse" color-interpolation-filters="sRGB"><feTurbulence type="fractalNoise" baseFrequency="0.4" numOctaves="2" seed="307"/><feColorMatrix type="matrix" values="0 0 0 0 0.878 0 0 0 0 1.000 0 0 0 0 1.000 5 0 0 0 -3.4"/><feGaussianBlur stdDeviation="0.4"/></filter>
<rect x="290" y="48" width="27" height="22" fill="#000" filter="url(#tx10)" opacity="0.6"/>
<filter id="tx11" x="288" y="47" width="31" height="25" filterUnits="userSpaceOnUse" color-interpolation-filters="sRGB"><feTurbulence type="fractalNoise" baseFrequency="0.3" numOctaves="2" seed="255"/><feColorMatrix type="matrix" values="0 0 0 0 0.627 0 0 0 0 0.251 0 0 0 0 0.502 4 0 0 0 -2.5"/><feGaussianBlur stdDeviation="0.6"/></filter>
<rect x="288" y="47" width="31" height="25" fill="#000" filter="url(#tx11)" opacity="0.5"/>
<rect x="288.40" y="41.50" width="30.60" height="30.00" fill="none" stroke="#a898d8" stroke-width="0.9"/>
</g>
<clipPath id="cp2"><rect x="320" y="42" width="63.5" height="63"/></clipPath><g clip-path="url(#cp2)">
<rect x="320.00" y="42.00" width="64.00" height="63.00" fill="#0d0a26" />
<filter id="tx12" x="320" y="42" width="64" height="63" filterUnits="userSpaceOnUse" color-interpolation-filters="sRGB"><feTurbulence type="fractalNoise" baseFrequency="0.3" numOctaves="2" seed="814"/><feColorMatrix type="matrix" values="0 0 0 0 0.227 0 0 0 0 0.125 0 0 0 0 0.376 4 0 0 0 -2.3"/><feGaussianBlur stdDeviation="0.7"/></filter>
<rect x="320" y="42" width="64" height="63" fill="#000" filter="url(#tx12)" opacity="0.7"/>
<filter id="tx13" x="320" y="42" width="64" height="63" filterUnits="userSpaceOnUse" color-interpolation-filters="sRGB"><feTurbulence type="fractalNoise" baseFrequency="0.35" numOctaves="2" seed="185"/><feColorMatrix type="matrix" values="0 0 0 0 0.376 0 0 0 0 0.125 0 0 0 0 0.314 4 0 0 0 -2.6"/><feGaussianBlur stdDeviation="0.7"/></filter>
<rect x="320" y="42" width="64" height="63" fill="#000" filter="url(#tx13)" opacity="0.5"/>
<filter id="tx14" x="346" y="42" width="20" height="14" filterUnits="userSpaceOnUse" color-interpolation-filters="sRGB"><feTurbulence type="fractalNoise" baseFrequency="0.4" numOctaves="2" seed="716"/><feColorMatrix type="matrix" values="0 0 0 0 0.753 0 0 0 0 0.188 0 0 0 0 0.314 5 0 0 0 -3.2"/><feGaussianBlur stdDeviation="0.5"/></filter>
<rect x="346" y="42" width="20" height="14" fill="#000" filter="url(#tx14)" opacity="0.5"/>
<path d="M315.0 102.0 L320.0 98.9 L330.0 94.6 L340.0 88.5 L350.0 80.5 L360.0 74.3 L370.0 70.6 L388.0 69.2 L388.0 76.0 L370.0 78.0 L360.0 82.3 L350.0 87.8 L340.0 94.6 L330.0 99.5 L320.0 103.8 L315.0 107.0Z" fill="#4e3cbc" opacity="1.0" filter="url(#b1)"/>
<path d="M325.0 110.0 L335.0 103.8 L345.0 97.0 L355.0 93.4 L365.0 91.5 L388.0 89.8 L388.0 94.6 L365.0 95.8 L355.0 97.7 L345.0 101.4 L330.0 112.0Z" fill="#4e3cbc" opacity="1.0" filter="url(#b1)"/>
<line x1="372.00" y1="100.00" x2="377.00" y2="100.00" stroke="#888" stroke-width="0.8"/>
</g>
<clipPath id="cp3"><rect x="385" y="42" width="63.5" height="63"/></clipPath><g clip-path="url(#cp3)">
<rect x="385.00" y="42.00" width="64.00" height="63.00" fill="#200a26" />
<filter id="tx15" x="385" y="42" width="64" height="63" filterUnits="userSpaceOnUse" color-interpolation-filters="sRGB"><feTurbulence type="fractalNoise" baseFrequency="0.1" numOctaves="2" seed="799"/><feColorMatrix type="matrix" values="0 0 0 0 0.251 0 0 0 0 0.063 0 0 0 0 0.220 3 0 0 0 -1.2"/><feGaussianBlur stdDeviation="1"/></filter>
<rect x="385" y="42" width="64" height="63" fill="#000" filter="url(#tx15)" opacity="0.7"/>
<filter id="tx16" x="385" y="42" width="64" height="63" filterUnits="userSpaceOnUse" color-interpolation-filters="sRGB"><feTurbulence type="fractalNoise" baseFrequency="0.3" numOctaves="2" seed="250"/><feColorMatrix type="matrix" values="0 0 0 0 0.565 0 0 0 0 0.157 0 0 0 0 0.345 4 0 0 0 -2.6"/><feGaussianBlur stdDeviation="0.6"/></filter>
<rect x="385" y="42" width="64" height="63" fill="#000" filter="url(#tx16)" opacity="0.5"/>
<filter id="tx17" x="385" y="42" width="64" height="63" filterUnits="userSpaceOnUse" color-interpolation-filters="sRGB"><feTurbulence type="fractalNoise" baseFrequency="0.55" numOctaves="2" seed="84"/><feColorMatrix type="matrix" values="0 0 0 0 0.816 0 0 0 0 0.251 0 0 0 0 0.376 5 0 0 0 -3.4"/><feGaussianBlur stdDeviation="0.4"/></filter>
<rect x="385" y="42" width="64" height="63" fill="#000" filter="url(#tx17)" opacity="0.6"/>
<path d="M380 68 C390 58 398 50 408 36" fill="none" stroke="#3e2ea0" stroke-width="9" stroke-linecap="butt" opacity="0.6" filter="url(#b2)"/>
<path d="M380.0 83.0 L390.0 83.5 L400.0 86.6 L400.0 98.9 L390.0 98.0 L380.0 97.0Z" fill="#4a38b8" opacity="0.85" filter="url(#b2)"/>
<path d="M398.0 87.0 L410.0 84.0 L420.0 80.5 L435.0 76.2 L452.0 74.0 L452.0 79.0 L440.0 81.7 L425.0 86.0 L410.0 89.7 L398.0 91.5Z" fill="#5840c8" opacity="1.0" filter="url(#b1)"/>
<path d="M395.0 93.5 L400.0 94.6 L415.0 96.5 L430.0 95.2 L452.0 90.5 L452.0 96.8 L430.0 101.4 L415.0 102.0 L400.0 98.9 L395.0 98.5Z" fill="#5840c8" opacity="1.0" filter="url(#b1)"/>
<filter id="tx18" x="385" y="70" width="64" height="35" filterUnits="userSpaceOnUse" color-interpolation-filters="sRGB"><feTurbulence type="fractalNoise" baseFrequency="0.5" numOctaves="2" seed="589"/><feColorMatrix type="matrix" values="0 0 0 0 0.753 0 0 0 0 0.314 0 0 0 0 0.565 5 0 0 0 -3.3"/><feGaussianBlur stdDeviation="0.4"/></filter>
<rect x="385" y="70" width="64" height="35" fill="#000" filter="url(#tx18)" opacity="0.4"/>
<g filter="url(#b05)"><line x1="394.81" y1="79.42" x2="396.70" y2="80.74" stroke="#fff" stroke-width="1.1"/><path d="M398.50 82.00L395.95 81.80L397.44 79.67Z" fill="#fff"/></g>
<g filter="url(#b05)"><line x1="401.81" y1="90.42" x2="403.70" y2="91.74" stroke="#fff" stroke-width="1.1"/><path d="M405.50 93.00L402.95 92.80L404.44 90.67Z" fill="#fff"/></g>
<line x1="436.00" y1="100.00" x2="440.00" y2="100.00" stroke="#bbb" stroke-width="0.8"/>
<rect x="418" y="42" width="31" height="29.5" fill="#1a0a1e"/>
<filter id="tx19" x="418" y="42" width="31" height="30" filterUnits="userSpaceOnUse" color-interpolation-filters="sRGB"><feTurbulence type="fractalNoise" baseFrequency="0.45" numOctaves="2" seed="308"/><feColorMatrix type="matrix" values="0 0 0 0 0.753 0 0 0 0 0.188 0 0 0 0 0.376 5 0 0 0 -3.0"/><feGaussianBlur stdDeviation="0.4"/></filter>
<rect x="418" y="42" width="31" height="30" fill="#000" filter="url(#tx19)" opacity="0.7"/>
<filter id="tx20" x="418" y="42" width="31" height="30" filterUnits="userSpaceOnUse" color-interpolation-filters="sRGB"><feTurbulence type="fractalNoise" baseFrequency="0.3" numOctaves="2" seed="538"/><feColorMatrix type="matrix" values="0 0 0 0 0.314 0 0 0 0 0.251 0 0 0 0 0.690 4 0 0 0 -2.6"/><feGaussianBlur stdDeviation="0.5"/></filter>
<rect x="418" y="42" width="31" height="30" fill="#000" filter="url(#tx20)" opacity="0.5"/>
<filter id="tx21" x="418" y="42" width="31" height="30" filterUnits="userSpaceOnUse" color-interpolation-filters="sRGB"><feTurbulence type="fractalNoise" baseFrequency="0.6" numOctaves="2" seed="507"/><feColorMatrix type="matrix" values="0 0 0 0 0.878 0 0 0 0 0.690 0 0 0 0 0.753 5 0 0 0 -3.6"/><feGaussianBlur stdDeviation="0.3"/></filter>
<rect x="418" y="42" width="31" height="30" fill="#000" filter="url(#tx21)" opacity="0.5"/>
<rect x="418.40" y="41.50" width="30.60" height="30.00" fill="none" stroke="#9d90b8" stroke-width="0.9"/>
</g>
<clipPath id="cp4"><rect x="450" y="42" width="63.5" height="63"/></clipPath><g clip-path="url(#cp4)">
<rect x="450.00" y="42.00" width="64.00" height="63.00" fill="#260820" />
<filter id="tx22" x="450" y="42" width="64" height="63" filterUnits="userSpaceOnUse" color-interpolation-filters="sRGB"><feTurbulence type="fractalNoise" baseFrequency="0.1" numOctaves="2" seed="897"/><feColorMatrix type="matrix" values="0 0 0 0 0.290 0 0 0 0 0.063 0 0 0 0 0.220 3 0 0 0 -1.2"/><feGaussianBlur stdDeviation="1"/></filter>
<rect x="450" y="42" width="64" height="63" fill="#000" filter="url(#tx22)" opacity="0.7"/>
<filter id="tx23" x="450" y="42" width="64" height="63" filterUnits="userSpaceOnUse" color-interpolation-filters="sRGB"><feTurbulence type="fractalNoise" baseFrequency="0.3" numOctaves="2" seed="352"/><feColorMatrix type="matrix" values="0 0 0 0 0.627 0 0 0 0 0.157 0 0 0 0 0.314 4 0 0 0 -2.5"/><feGaussianBlur stdDeviation="0.6"/></filter>
<rect x="450" y="42" width="64" height="63" fill="#000" filter="url(#tx23)" opacity="0.55"/>
<filter id="tx24" x="450" y="42" width="64" height="63" filterUnits="userSpaceOnUse" color-interpolation-filters="sRGB"><feTurbulence type="fractalNoise" baseFrequency="0.55" numOctaves="2" seed="747"/><feColorMatrix type="matrix" values="0 0 0 0 0.878 0 0 0 0 0.251 0 0 0 0 0.376 5 0 0 0 -3.4"/><feGaussianBlur stdDeviation="0.4"/></filter>
<rect x="450" y="42" width="64" height="63" fill="#000" filter="url(#tx24)" opacity="0.6"/>
<path d="M443 64 C452 56 460 48 468 36" fill="none" stroke="#3e2ea0" stroke-width="8" stroke-linecap="butt" opacity="0.55" filter="url(#b2)"/>
<path d="M445.0 98.0 L450.0 96.5 L465.0 91.5 L480.0 83.5 L495.0 77.4 L518.0 73.2 L518.0 78.8 L495.0 83.5 L480.0 89.7 L465.0 96.5 L450.0 101.4 L445.0 103.0Z" fill="#5840c8" opacity="1.0" filter="url(#b1)"/>
<path d="M455.0 106.0 L460.0 101.4 L475.0 95.2 L490.0 90.9 L518.0 86.3 L518.0 92.0 L490.0 95.8 L475.0 100.2 L460.0 105.0 L455.0 110.0Z" fill="#5840c8" opacity="1.0" filter="url(#b1)"/>
<filter id="tx25" x="450" y="70" width="64" height="35" filterUnits="userSpaceOnUse" color-interpolation-filters="sRGB"><feTurbulence type="fractalNoise" baseFrequency="0.5" numOctaves="2" seed="460"/><feColorMatrix type="matrix" values="0 0 0 0 0.753 0 0 0 0 0.314 0 0 0 0 0.565 5 0 0 0 -3.3"/><feGaussianBlur stdDeviation="0.4"/></filter>
<rect x="450" y="70" width="64" height="35" fill="#000" filter="url(#tx25)" opacity="0.4"/>
<g filter="url(#b05)"><line x1="455.31" y1="52.42" x2="457.20" y2="53.74" stroke="#fff" stroke-width="1.1"/><path d="M459.00 55.00L456.45 54.80L457.94 52.67Z" fill="#fff"/></g>
<g filter="url(#b05)"><line x1="476.81" y1="75.42" x2="478.70" y2="76.74" stroke="#fff" stroke-width="1.1"/><path d="M480.50 78.00L477.95 77.80L479.44 75.67Z" fill="#fff"/></g>
<line x1="500.00" y1="100.00" x2="504.00" y2="100.00" stroke="#bbb" stroke-width="0.8"/>
<rect x="483" y="42" width="31" height="29.5" fill="#1c1e50"/>
<path d="M478 42 C490 50 505 62 520 74" fill="none" stroke="#4e48c8" stroke-width="14" stroke-linecap="butt" opacity="0.95" filter="url(#b2)"/>
<ellipse cx="490" cy="66" rx="6" ry="4" fill="#103820" opacity="0.6" filter="url(#b2)"/>
<filter id="tx26" x="483" y="42" width="31" height="30" filterUnits="userSpaceOnUse" color-interpolation-filters="sRGB"><feTurbulence type="fractalNoise" baseFrequency="0.3" numOctaves="2" seed="295"/><feColorMatrix type="matrix" values="0 0 0 0 0.439 0 0 0 0 0.439 0 0 0 0 0.878 4 0 0 0 -2.4"/><feGaussianBlur stdDeviation="0.6"/></filter>
<rect x="483" y="42" width="31" height="30" fill="#000" filter="url(#tx26)" opacity="0.5"/>
<rect x="483.40" y="41.50" width="30.60" height="30.00" fill="none" stroke="#a89cc8" stroke-width="0.9"/>
</g>
<text x="408.30" y="114.80" font-size="7.5" fill="#7ccb7c" textLength="36.43" lengthAdjust="spacingAndGlyphs" xml:space="preserve">GFP (donor) </text>
<text x="444.73" y="114.80" font-size="7.5" fill="#d43c5c" textLength="15.32" lengthAdjust="spacingAndGlyphs" xml:space="preserve">IBA1 </text>
<text x="460.05" y="114.80" font-size="7.5" fill="#86b6e2" textLength="38.63" lengthAdjust="spacingAndGlyphs" xml:space="preserve">MHC Class II </text>
<text x="498.68" y="114.80" font-size="7.5" fill="#3a3aa0" textLength="14.62" lengthAdjust="spacingAndGlyphs" xml:space="preserve">DAPI</text>
<text x="246.00" y="176.50" font-size="11.5" text-anchor="start" fill="#111" textLength="7.02" lengthAdjust="spacingAndGlyphs" stroke="#111" stroke-width="0.3" font-weight="bold">F</text>
<text x="287.00" y="193.40" font-size="7.5" text-anchor="middle" fill="#333" textLength="49.86" lengthAdjust="spacingAndGlyphs" stroke="#333" stroke-width="0.1">GVHD + iso mAb</text>
<text x="352.50" y="193.40" font-size="7.5" text-anchor="middle" fill="#333" textLength="42.61" lengthAdjust="spacingAndGlyphs" stroke="#333" stroke-width="0.1">GVHD + M279</text>
<text x="416.50" y="193.40" font-size="7.5" text-anchor="middle" fill="#333" textLength="44.42" lengthAdjust="spacingAndGlyphs" stroke="#333" stroke-width="0.1">TCD + iso mAb</text>
<text x="481.50" y="193.40" font-size="7.5" text-anchor="middle" fill="#333" textLength="37.17" lengthAdjust="spacingAndGlyphs" stroke="#333" stroke-width="0.1">TCD + M279</text>
<text x="252.5" y="229" font-size="7.5" text-anchor="middle" fill="#444" stroke="#444" stroke-width="0.08" transform="rotate(-90 252.5 229)" textLength="20" lengthAdjust="spacingAndGlyphs">Cortex</text>
<clipPath id="cp5"><rect x="255" y="198" width="64.5" height="63.3"/></clipPath><g clip-path="url(#cp5)">
<rect x="255.00" y="198.00" width="65.00" height="63.30" fill="#2a1442" />
<filter id="tx27" x="255" y="198" width="65" height="63.3" filterUnits="userSpaceOnUse" color-interpolation-filters="sRGB"><feTurbulence type="fractalNoise" baseFrequency="0.1" numOctaves="2" seed="624"/><feColorMatrix type="matrix" values="0 0 0 0 0.267 0 0 0 0 0.094 0 0 0 0 0.353 3 0 0 0 -1.2"/><feGaussianBlur stdDeviation="1"/></filter>
<rect x="255" y="198" width="65" height="63.3" fill="#000" filter="url(#tx27)" opacity="0.7"/>
<filter id="tx28" x="255" y="198" width="65" height="63.3" filterUnits="userSpaceOnUse" color-interpolation-filters="sRGB"><feTurbulence type="fractalNoise" baseFrequency="0.5" numOctaves="2" seed="75"/><feColorMatrix type="matrix" values="0 0 0 0 0.533 0 0 0 0 0.345 0 0 0 0 0.753 5 0 0 0 -2.9"/><feGaussianBlur stdDeviation="0.4"/></filter>
<rect x="255" y="198" width="65" height="63.3" fill="#000" filter="url(#tx28)" opacity="0.6"/>
<filter id="tx29" x="255" y="198" width="65" height="63.3" filterUnits="userSpaceOnUse" color-interpolation-filters="sRGB"><feTurbulence type="fractalNoise" baseFrequency="0.55" numOctaves="2" seed="121"/><feColorMatrix type="matrix" values="0 0 0 0 0.753 0 0 0 0 0.314 0 0 0 0 0.565 5 0 0 0 -3.2"/><feGaussianBlur stdDeviation="0.4"/></filter>
<rect x="255" y="198" width="65" height="63.3" fill="#000" filter="url(#tx29)" opacity="0.55"/>
<filter id="tx30" x="280" y="230" width="40" height="31" filterUnits="userSpaceOnUse" color-interpolation-filters="sRGB"><feTurbulence type="fractalNoise" baseFrequency="0.6" numOctaves="2" seed="525"/><feColorMatrix type="matrix" values="0 0 0 0 0.690 0 0 0 0 0.878 0 0 0 0 0.690 5 0 0 0 -3.5"/><feGaussianBlur stdDeviation="0.3"/></filter>
<rect x="280" y="230" width="40" height="31" fill="#000" filter="url(#tx30)" opacity="0.7"/>
<g filter="url(#b05)"><line x1="271.31" y1="212.92" x2="273.20" y2="214.24" stroke="#fff" stroke-width="1.1"/><path d="M275.00 215.50L272.45 215.30L273.94 213.17Z" fill="#fff"/></g>
<g filter="url(#b05)"><line x1="261.31" y1="230.42" x2="263.20" y2="231.74" stroke="#fff" stroke-width="1.1"/><path d="M265.00 233.00L262.45 232.80L263.94 230.67Z" fill="#fff"/></g>
<rect x="289" y="198" width="31" height="30" fill="#121228"/>
<filter id="tx31" x="289" y="204" width="31" height="24" filterUnits="userSpaceOnUse" color-interpolation-filters="sRGB"><feTurbulence type="fractalNoise" baseFrequency="0.22" numOctaves="2" seed="429"/><feColorMatrix type="matrix" values="0 0 0 0 0.220 0 0 0 0 0.282 0 0 0 0 0.784 4 0 0 0 -1.7"/><feGaussianBlur stdDeviation="0.6"/></filter>
<rect x="289" y="204" width="31" height="24" fill="#000" filter="url(#tx31)" opacity="0.9"/>
<filter id="tx32" x="289" y="206" width="31" height="22" filterUnits="userSpaceOnUse" color-interpolation-filters="sRGB"><feTurbulence type="fractalNoise" baseFrequency="0.45" numOctaves="2" seed="169"/><feColorMatrix type="matrix" values="0 0 0 0 0.784 0 0 0 0 0.941 0 0 0 0 0.533 5 0 0 0 -3.0"/><feGaussianBlur stdDeviation="0.4"/></filter>
<rect x="289" y="206" width="31" height="22" fill="#000" filter="url(#tx32)" opacity="0.9"/>
<filter id="tx33" x="289" y="204" width="31" height="24" filterUnits="userSpaceOnUse" color-interpolation-filters="sRGB"><feTurbulence type="fractalNoise" baseFrequency="0.3" numOctaves="2" seed="776"/><feColorMatrix type="matrix" values="0 0 0 0 0.376 0 0 0 0 0.753 0 0 0 0 0.565 4 0 0 0 -2.4"/><feGaussianBlur stdDeviation="0.5"/></filter>
<rect x="289" y="204" width="31" height="24" fill="#000" filter="url(#tx33)" opacity="0.6"/>
<filter id="tx34" x="289" y="198" width="31" height="8" filterUnits="userSpaceOnUse" color-interpolation-filters="sRGB"><feTurbulence type="fractalNoise" baseFrequency="0.4" numOctaves="2" seed="351"/><feColorMatrix type="matrix" values="0 0 0 0 0.753 0 0 0 0 0.188 0 0 0 0 0.314 5 0 0 0 -3.0"/><feGaussianBlur stdDeviation="0.4"/></filter>
<rect x="289" y="198" width="31" height="8" fill="#000" filter="url(#tx34)" opacity="0.7"/>
<rect x="289.40" y="197.50" width="30.60" height="30.50" fill="none" stroke="#b0a8c0" stroke-width="0.9"/>
</g>
<clipPath id="cp6"><rect x="321" y="198" width="63.5" height="63.3"/></clipPath><g clip-path="url(#cp6)">
<rect x="321.00" y="198.00" width="64.00" height="63.30" fill="#2c0c36" />
<filter id="tx35" x="321" y="198" width="64" height="63.3" filterUnits="userSpaceOnUse" color-interpolation-filters="sRGB"><feTurbulence type="fractalNoise" baseFrequency="0.1" numOctaves="2" seed="156"/><feColorMatrix type="matrix" values="0 0 0 0 0.275 0 0 0 0 0.071 0 0 0 0 0.282 3 0 0 0 -1.2"/><feGaussianBlur stdDeviation="1"/></filter>
<rect x="321" y="198" width="64" height="63.3" fill="#000" filter="url(#tx35)" opacity="0.7"/>
<filter id="tx36" x="321" y="198" width="64" height="63.3" filterUnits="userSpaceOnUse" color-interpolation-filters="sRGB"><feTurbulence type="fractalNoise" baseFrequency="0.5" numOctaves="2" seed="956"/><feColorMatrix type="matrix" values="0 0 0 0 0.753 0 0 0 0 0.188 0 0 0 0 0.408 5 0 0 0 -3.0"/><feGaussianBlur stdDeviation="0.4"/></filter>
<rect x="321" y="198" width="64" height="63.3" fill="#000" filter="url(#tx36)" opacity="0.6"/>
<filter id="tx37" x="321" y="198" width="64" height="63.3" filterUnits="userSpaceOnUse" color-interpolation-filters="sRGB"><feTurbulence type="fractalNoise" baseFrequency="0.5" numOctaves="2" seed="501"/><feColorMatrix type="matrix" values="0 0 0 0 0.376 0 0 0 0 0.314 0 0 0 0 0.753 5 0 0 0 -3.2"/><feGaussianBlur stdDeviation="0.4"/></filter>
<rect x="321" y="198" width="64" height="63.3" fill="#000" filter="url(#tx37)" opacity="0.5"/>
<ellipse cx="338" cy="222" rx="8" ry="6" fill="#3030a0" opacity="0.3" filter="url(#b2)"/>
<filter id="tx38" x="321" y="242" width="64" height="19" filterUnits="userSpaceOnUse" color-interpolation-filters="sRGB"><feTurbulence type="fractalNoise" baseFrequency="0.6" numOctaves="2" seed="432"/><feColorMatrix type="matrix" values="0 0 0 0 0.376 0 0 0 0 0.878 0 0 0 0 0.690 5 0 0 0 -3.7"/><feGaussianBlur stdDeviation="0.3"/></filter>
<rect x="321" y="242" width="64" height="19" fill="#000" filter="url(#tx38)" opacity="0.8"/>
<g filter="url(#b05)"><line x1="332.31" y1="210.42" x2="334.20" y2="211.74" stroke="#fff" stroke-width="1.1"/><path d="M336.00 213.00L333.45 212.80L334.94 210.67Z" fill="#fff"/></g>
<g filter="url(#b05)"><line x1="346.31" y1="224.42" x2="348.20" y2="225.74" stroke="#fff" stroke-width="1.1"/><path d="M350.00 227.00L347.45 226.80L348.94 224.67Z" fill="#fff"/></g>
<rect x="354" y="198" width="31" height="30" fill="#26103a"/>
<ellipse cx="366" cy="217" rx="8" ry="6" fill="#3a40c0" opacity="0.7" filter="url(#b2)"/>
<filter id="tx39" x="354" y="198" width="31" height="30" filterUnits="userSpaceOnUse" color-interpolation-filters="sRGB"><feTurbulence type="fractalNoise" baseFrequency="0.45" numOctaves="2" seed="41"/><feColorMatrix type="matrix" values="0 0 0 0 0.816 0 0 0 0 0.188 0 0 0 0 0.439 5 0 0 0 -2.9"/><feGaussianBlur stdDeviation="0.4"/></filter>
<rect x="354" y="198" width="31" height="30" fill="#000" filter="url(#tx39)" opacity="0.7"/>
<g filter="url(#b05)"><line x1="377.72" y1="209.71" x2="379.20" y2="210.74" stroke="#e0e0e0" stroke-width="1.1"/><path d="M381.00 212.00L378.45 211.80L379.94 209.67Z" fill="#e0e0e0"/></g>
<g filter="url(#b05)"><line x1="370.72" y1="216.71" x2="372.20" y2="217.74" stroke="#e0e0e0" stroke-width="1.1"/><path d="M374.00 219.00L371.45 218.80L372.94 216.67Z" fill="#e0e0e0"/></g>
<g filter="url(#b05)"><line x1="354.72" y1="227.29" x2="356.20" y2="226.26" stroke="#e0e0e0" stroke-width="1.1"/><path d="M358.00 225.00L356.94 227.33L355.45 225.20Z" fill="#e0e0e0"/></g>
<rect x="354.40" y="197.50" width="30.60" height="30.50" fill="none" stroke="#b0a8c8" stroke-width="0.9"/>
<path d="M369 238 C372 232 374 230 378 232" stroke="#c0b0d0" stroke-width="0.6" fill="none" opacity="0.6"/>
</g>
<clipPath id="cp7"><rect x="385" y="198" width="63.5" height="63.3"/></clipPath><g clip-path="url(#cp7)">
<rect x="385.00" y="198.00" width="64.00" height="63.30" fill="#220c28" />
<filter id="tx40" x="385" y="198" width="64" height="63.3" filterUnits="userSpaceOnUse" color-interpolation-filters="sRGB"><feTurbulence type="fractalNoise" baseFrequency="0.1" numOctaves="2" seed="986"/><feColorMatrix type="matrix" values="0 0 0 0 0.243 0 0 0 0 0.071 0 0 0 0 0.251 3 0 0 0 -1.2"/><feGaussianBlur stdDeviation="1"/></filter>
<rect x="385" y="198" width="64" height="63.3" fill="#000" filter="url(#tx40)" opacity="0.6"/>
<filter id="tx41" x="385" y="198" width="64" height="63.3" filterUnits="userSpaceOnUse" color-interpolation-filters="sRGB"><feTurbulence type="fractalNoise" baseFrequency="0.5" numOctaves="2" seed="685"/><feColorMatrix type="matrix" values="0 0 0 0 0.627 0 0 0 0 0.157 0 0 0 0 0.345 5 0 0 0 -3.1"/><feGaussianBlur stdDeviation="0.4"/></filter>
<rect x="385" y="198" width="64" height="63.3" fill="#000" filter="url(#tx41)" opacity="0.55"/>
<filter id="tx42" x="385" y="198" width="64" height="63.3" filterUnits="userSpaceOnUse" color-interpolation-filters="sRGB"><feTurbulence type="fractalNoise" baseFrequency="0.5" numOctaves="2" seed="80"/><feColorMatrix type="matrix" values="0 0 0 0 0.314 0 0 0 0 0.188 0 0 0 0 0.565 5 0 0 0 -3.2"/><feGaussianBlur stdDeviation="0.4"/></filter>
<rect x="385" y="198" width="64" height="63.3" fill="#000" filter="url(#tx42)" opacity="0.5"/>
<g filter="url(#b05)"><line x1="398.31" y1="211.42" x2="400.20" y2="212.74" stroke="#fff" stroke-width="1.1"/><path d="M402.00 214.00L399.45 213.80L400.94 211.67Z" fill="#fff"/></g>
<g filter="url(#b05)"><line x1="419.31" y1="239.42" x2="421.20" y2="240.74" stroke="#fff" stroke-width="1.1"/><path d="M423.00 242.00L420.45 241.80L421.94 239.67Z" fill="#fff"/></g>
<line x1="436.00" y1="257.00" x2="440.00" y2="257.00" stroke="#bbb" stroke-width="0.8"/>
<rect x="418" y="198" width="31" height="30" fill="#161648"/>
<filter id="tx43" x="418" y="198" width="31" height="30" filterUnits="userSpaceOnUse" color-interpolation-filters="sRGB"><feTurbulence type="fractalNoise" baseFrequency="0.45" numOctaves="2" seed="783"/><feColorMatrix type="matrix" values="0 0 0 0 0.267 0 0 0 0 0.267 0 0 0 0 0.800 5 0 0 0 -2.6"/><feGaussianBlur stdDeviation="0.4"/></filter>
<rect x="418" y="198" width="31" height="30" fill="#000" filter="url(#tx43)" opacity="0.85"/>
<filter id="tx44" x="418" y="198" width="31" height="30" filterUnits="userSpaceOnUse" color-interpolation-filters="sRGB"><feTurbulence type="fractalNoise" baseFrequency="0.4" numOctaves="2" seed="572"/><feColorMatrix type="matrix" values="0 0 0 0 0.502 0 0 0 0 0.314 0 0 0 0 0.690 5 0 0 0 -3.2"/><feGaussianBlur stdDeviation="0.4"/></filter>
<rect x="418" y="198" width="31" height="30" fill="#000" filter="url(#tx44)" opacity="0.6"/>
<rect x="418.40" y="197.50" width="30.60" height="30.50" fill="none" stroke="#a8a0c0" stroke-width="0.9"/>
</g>
<clipPath id="cp8"><rect x="450" y="198" width="63.5" height="63.3"/></clipPath><g clip-path="url(#cp8)">
<rect x="450.00" y="198.00" width="64.00" height="63.30" fill="#1a0818" />
<filter id="tx45" x="450" y="198" width="64" height="63.3" filterUnits="userSpaceOnUse" color-interpolation-filters="sRGB"><feTurbulence type="fractalNoise" baseFrequency="0.1" numOctaves="2" seed="587"/><feColorMatrix type="matrix" values="0 0 0 0 0.220 0 0 0 0 0.063 0 0 0 0 0.188 3 0 0 0 -1.2"/><feGaussianBlur stdDeviation="1"/></filter>
<rect x="450" y="198" width="64" height="63.3" fill="#000" filter="url(#tx45)" opacity="0.6"/>
<filter id="tx46" x="450" y="198" width="64" height="63.3" filterUnits="userSpaceOnUse" color-interpolation-filters="sRGB"><feTurbulence type="fractalNoise" baseFrequency="0.5" numOctaves="2" seed="809"/><feColorMatrix type="matrix" values="0 0 0 0 0.627 0 0 0 0 0.125 0 0 0 0 0.314 5 0 0 0 -3.2"/><feGaussianBlur stdDeviation="0.4"/></filter>
<rect x="450" y="198" width="64" height="63.3" fill="#000" filter="url(#tx46)" opacity="0.5"/>
<g filter="url(#b05)"><line x1="461.81" y1="222.42" x2="463.70" y2="223.74" stroke="#fff" stroke-width="1.1"/><path d="M465.50 225.00L462.95 224.80L464.44 222.67Z" fill="#fff"/></g>
<g filter="url(#b05)"><line x1="478.31" y1="236.92" x2="480.20" y2="238.24" stroke="#fff" stroke-width="1.1"/><path d="M482.00 239.50L479.45 239.30L480.94 237.17Z" fill="#fff"/></g>
<line x1="500.00" y1="257.00" x2="504.00" y2="257.00" stroke="#bbb" stroke-width="0.8"/>
<rect x="483" y="198" width="31" height="30" fill="#1a1440"/>
<ellipse cx="500" cy="214" rx="7" ry="8" fill="#4030a0" opacity="0.6" filter="url(#b2)"/>
<ellipse cx="488" cy="216" rx="1.5" ry="5" fill="#c03040" opacity="0.55" filter="url(#b1)"/>
<filter id="tx47" x="483" y="198" width="31" height="30" filterUnits="userSpaceOnUse" color-interpolation-filters="sRGB"><feTurbulence type="fractalNoise" baseFrequency="0.45" numOctaves="2" seed="897"/><feColorMatrix type="matrix" values="0 0 0 0 0.282 0 0 0 0 0.220 0 0 0 0 0.722 5 0 0 0 -3.0"/><feGaussianBlur stdDeviation="0.4"/></filter>
<rect x="483" y="198" width="31" height="30" fill="#000" filter="url(#tx47)" opacity="0.6"/>
<filter id="tx48" x="483" y="198" width="31" height="30" filterUnits="userSpaceOnUse" color-interpolation-filters="sRGB"><feTurbulence type="fractalNoise" baseFrequency="0.45" numOctaves="2" seed="838"/><feColorMatrix type="matrix" values="0 0 0 0 0.502 0 0 0 0 0.125 0 0 0 0 0.376 5 0 0 0 -3.1"/><feGaussianBlur stdDeviation="0.4"/></filter>
<rect x="483" y="198" width="31" height="30" fill="#000" filter="url(#tx48)" opacity="0.5"/>
<rect x="483.40" y="197.50" width="30.60" height="30.50" fill="none" stroke="#a8a0c0" stroke-width="0.9"/>
</g>
<text x="408.30" y="270.80" font-size="7.5" fill="#7ccb7c" textLength="36.43" lengthAdjust="spacingAndGlyphs" xml:space="preserve">GFP (donor) </text>
<text x="444.73" y="270.80" font-size="7.5" fill="#d43c5c" textLength="15.32" lengthAdjust="spacingAndGlyphs" xml:space="preserve">IBA1 </text>
<text x="460.05" y="270.80" font-size="7.5" fill="#86b6e2" textLength="38.63" lengthAdjust="spacingAndGlyphs" xml:space="preserve">MHC Class II </text>
<text x="498.68" y="270.80" font-size="7.5" fill="#3a3aa0" textLength="14.62" lengthAdjust="spacingAndGlyphs" xml:space="preserve">DAPI</text>
<rect x="0.00" y="0.00" width="520.00" height="1.00" fill="#6a6a6a" />
<rect x="0.00" y="0.00" width="1.00" height="631.00" fill="#555" />
<rect x="519.00" y="0.00" width="1.00" height="631.00" fill="#4a4a4a" />
<rect x="0.00" y="630.00" width="520.00" height="1.00" fill="#3c3c3c" />
<rect x="1.00" y="629.00" width="518.00" height="1.00" fill="#c8c8c8" />
</svg></body></html>
